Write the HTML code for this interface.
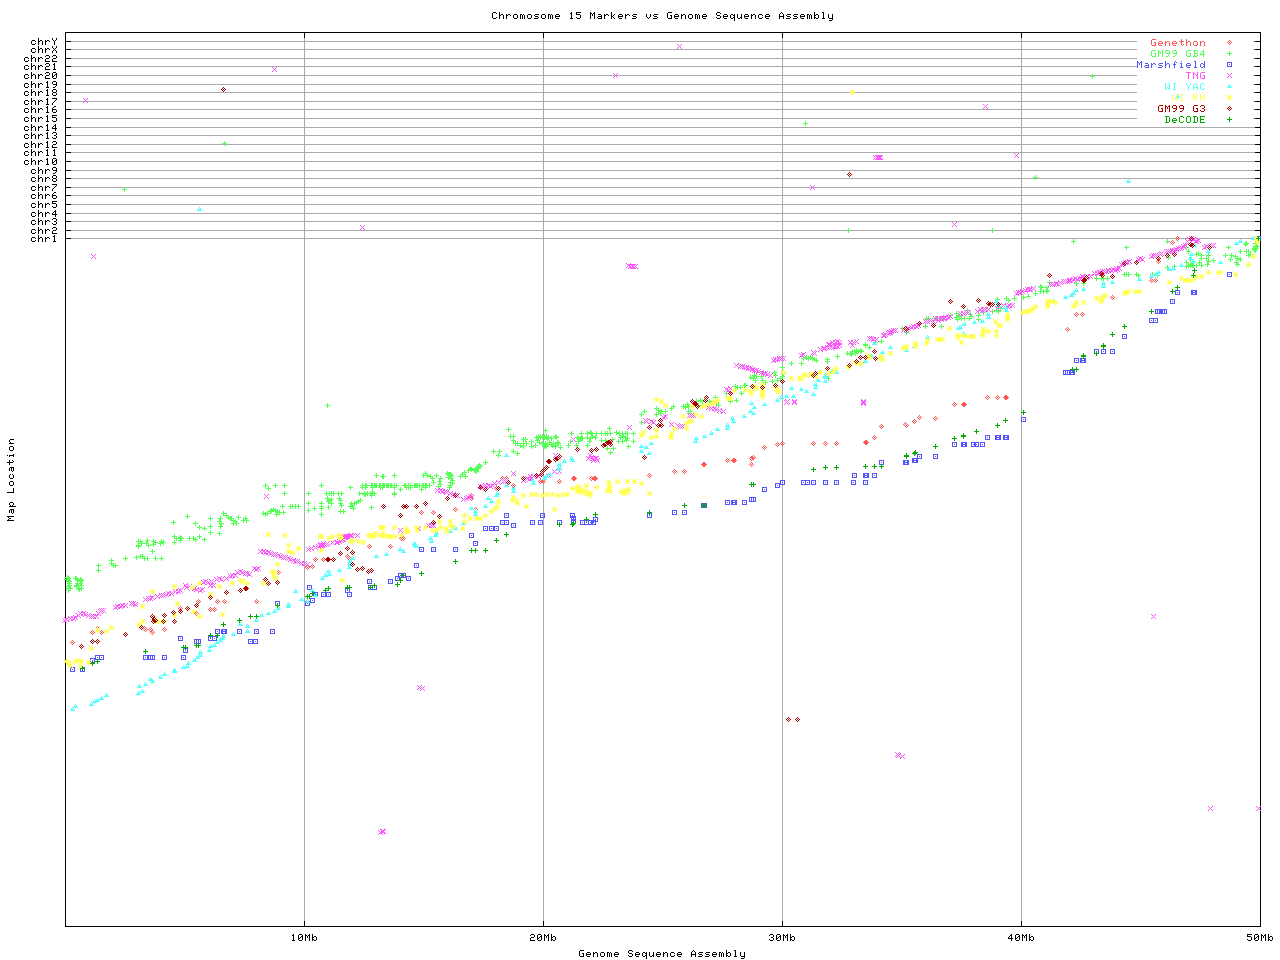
<!DOCTYPE html><html><head><meta charset="utf-8"><title>Chromosome 15 Markers vs Genome Sequence Assembly</title>
<style>html,body{margin:0;padding:0;background:#fff;font-family:"Liberation Sans",sans-serif}svg{display:block}</style></head><body>
<svg width="1280" height="960" viewBox="0 0 1280 960" shape-rendering="crispEdges">
<rect width="1280" height="960" fill="#fff"/>
<defs><path id="g30" d="M1 0h3v1h-3zM0 1h1v1h-1zM4 1h1v1h-1zM0 2h1v1h-1zM3 2h2v1h-2zM0 3h1v1h-1zM2 3h1v1h-1zM4 3h1v1h-1zM0 4h2v1h-2zM4 4h1v1h-1zM0 5h1v1h-1zM4 5h1v1h-1zM1 6h3v1h-3z"/><path id="g31" d="M2 0h1v1h-1zM1 1h2v1h-2zM2 2h1v1h-1zM2 3h1v1h-1zM2 4h1v1h-1zM2 5h1v1h-1zM1 6h3v1h-3z"/><path id="g32" d="M1 0h3v1h-3zM0 1h1v1h-1zM4 1h1v1h-1zM4 2h1v1h-1zM1 3h3v1h-3zM0 4h1v1h-1zM0 5h1v1h-1zM0 6h5v1h-5z"/><path id="g33" d="M1 0h3v1h-3zM0 1h1v1h-1zM4 1h1v1h-1zM4 2h1v1h-1zM2 3h2v1h-2zM4 4h1v1h-1zM0 5h1v1h-1zM4 5h1v1h-1zM1 6h3v1h-3z"/><path id="g34" d="M3 0h1v1h-1zM2 1h2v1h-2zM1 2h1v1h-1zM3 2h1v1h-1zM0 3h1v1h-1zM3 3h1v1h-1zM0 4h5v1h-5zM3 5h1v1h-1zM3 6h1v1h-1z"/><path id="g35" d="M0 0h5v1h-5zM0 1h1v1h-1zM0 2h4v1h-4zM4 3h1v1h-1zM4 4h1v1h-1zM0 5h1v1h-1zM4 5h1v1h-1zM1 6h3v1h-3z"/><path id="g36" d="M2 0h2v1h-2zM1 1h1v1h-1zM0 2h1v1h-1zM0 3h4v1h-4zM0 4h1v1h-1zM4 4h1v1h-1zM0 5h1v1h-1zM4 5h1v1h-1zM1 6h3v1h-3z"/><path id="g37" d="M0 0h5v1h-5zM4 1h1v1h-1zM3 2h1v1h-1zM2 3h1v1h-1zM1 4h1v1h-1zM0 5h1v1h-1zM0 6h1v1h-1z"/><path id="g38" d="M1 0h3v1h-3zM0 1h1v1h-1zM4 1h1v1h-1zM0 2h1v1h-1zM4 2h1v1h-1zM1 3h3v1h-3zM0 4h1v1h-1zM4 4h1v1h-1zM0 5h1v1h-1zM4 5h1v1h-1zM1 6h3v1h-3z"/><path id="g39" d="M1 0h3v1h-3zM0 1h1v1h-1zM4 1h1v1h-1zM0 2h1v1h-1zM4 2h1v1h-1zM1 3h4v1h-4zM4 4h1v1h-1zM3 5h1v1h-1zM1 6h2v1h-2z"/><path id="g41" d="M2 0h1v1h-1zM1 1h1v1h-1zM3 1h1v1h-1zM0 2h1v1h-1zM4 2h1v1h-1zM0 3h1v1h-1zM4 3h1v1h-1zM0 4h5v1h-5zM0 5h1v1h-1zM4 5h1v1h-1zM0 6h1v1h-1zM4 6h1v1h-1z"/><path id="g42" d="M0 0h4v1h-4zM1 1h1v1h-1zM4 1h1v1h-1zM1 2h1v1h-1zM4 2h1v1h-1zM1 3h3v1h-3zM1 4h1v1h-1zM4 4h1v1h-1zM1 5h1v1h-1zM4 5h1v1h-1zM0 6h4v1h-4z"/><path id="g43" d="M1 0h3v1h-3zM0 1h1v1h-1zM4 1h1v1h-1zM0 2h1v1h-1zM0 3h1v1h-1zM0 4h1v1h-1zM0 5h1v1h-1zM4 5h1v1h-1zM1 6h3v1h-3z"/><path id="g44" d="M0 0h4v1h-4zM1 1h1v1h-1zM4 1h1v1h-1zM1 2h1v1h-1zM4 2h1v1h-1zM1 3h1v1h-1zM4 3h1v1h-1zM1 4h1v1h-1zM4 4h1v1h-1zM1 5h1v1h-1zM4 5h1v1h-1zM0 6h4v1h-4z"/><path id="g45" d="M0 0h5v1h-5zM0 1h1v1h-1zM0 2h1v1h-1zM0 3h4v1h-4zM0 4h1v1h-1zM0 5h1v1h-1zM0 6h5v1h-5z"/><path id="g47" d="M1 0h4v1h-4zM0 1h1v1h-1zM0 2h1v1h-1zM0 3h1v1h-1zM3 3h2v1h-2zM0 4h1v1h-1zM4 4h1v1h-1zM0 5h1v1h-1zM4 5h1v1h-1zM1 6h4v1h-4z"/><path id="g48" d="M0 0h1v1h-1zM4 0h1v1h-1zM0 1h1v1h-1zM4 1h1v1h-1zM0 2h1v1h-1zM4 2h1v1h-1zM0 3h5v1h-5zM0 4h1v1h-1zM4 4h1v1h-1zM0 5h1v1h-1zM4 5h1v1h-1zM0 6h1v1h-1zM4 6h1v1h-1z"/><path id="g49" d="M1 0h3v1h-3zM2 1h1v1h-1zM2 2h1v1h-1zM2 3h1v1h-1zM2 4h1v1h-1zM2 5h1v1h-1zM1 6h3v1h-3z"/><path id="g4c" d="M0 0h1v1h-1zM0 1h1v1h-1zM0 2h1v1h-1zM0 3h1v1h-1zM0 4h1v1h-1zM0 5h1v1h-1zM0 6h5v1h-5z"/><path id="g4d" d="M0 0h1v1h-1zM4 0h1v1h-1zM0 1h2v1h-2zM3 1h2v1h-2zM0 2h1v1h-1zM2 2h1v1h-1zM4 2h1v1h-1zM0 3h1v1h-1zM2 3h1v1h-1zM4 3h1v1h-1zM0 4h1v1h-1zM4 4h1v1h-1zM0 5h1v1h-1zM4 5h1v1h-1zM0 6h1v1h-1zM4 6h1v1h-1z"/><path id="g4e" d="M0 0h1v1h-1zM4 0h1v1h-1zM0 1h2v1h-2zM4 1h1v1h-1zM0 2h1v1h-1zM2 2h1v1h-1zM4 2h1v1h-1zM0 3h1v1h-1zM3 3h2v1h-2zM0 4h1v1h-1zM4 4h1v1h-1zM0 5h1v1h-1zM4 5h1v1h-1zM0 6h1v1h-1zM4 6h1v1h-1z"/><path id="g4f" d="M1 0h3v1h-3zM0 1h1v1h-1zM4 1h1v1h-1zM0 2h1v1h-1zM4 2h1v1h-1zM0 3h1v1h-1zM4 3h1v1h-1zM0 4h1v1h-1zM4 4h1v1h-1zM0 5h1v1h-1zM4 5h1v1h-1zM1 6h3v1h-3z"/><path id="g52" d="M0 0h4v1h-4zM0 1h1v1h-1zM4 1h1v1h-1zM0 2h1v1h-1zM4 2h1v1h-1zM0 3h4v1h-4zM0 4h1v1h-1zM2 4h1v1h-1zM0 5h1v1h-1zM3 5h1v1h-1zM0 6h1v1h-1zM4 6h1v1h-1z"/><path id="g53" d="M1 0h3v1h-3zM0 1h1v1h-1zM4 1h1v1h-1zM0 2h1v1h-1zM1 3h3v1h-3zM4 4h1v1h-1zM0 5h1v1h-1zM4 5h1v1h-1zM1 6h3v1h-3z"/><path id="g54" d="M0 0h5v1h-5zM2 1h1v1h-1zM2 2h1v1h-1zM2 3h1v1h-1zM2 4h1v1h-1zM2 5h1v1h-1zM2 6h1v1h-1z"/><path id="g57" d="M0 0h1v1h-1zM4 0h1v1h-1zM0 1h1v1h-1zM4 1h1v1h-1zM0 2h1v1h-1zM4 2h1v1h-1zM0 3h1v1h-1zM4 3h1v1h-1zM0 4h1v1h-1zM2 4h1v1h-1zM4 4h1v1h-1zM0 5h2v1h-2zM3 5h2v1h-2zM0 6h1v1h-1zM4 6h1v1h-1z"/><path id="g58" d="M0 0h1v1h-1zM4 0h1v1h-1zM0 1h1v1h-1zM4 1h1v1h-1zM1 2h1v1h-1zM3 2h1v1h-1zM2 3h1v1h-1zM1 4h1v1h-1zM3 4h1v1h-1zM0 5h1v1h-1zM4 5h1v1h-1zM0 6h1v1h-1zM4 6h1v1h-1z"/><path id="g59" d="M0 0h1v1h-1zM4 0h1v1h-1zM0 1h1v1h-1zM4 1h1v1h-1zM1 2h1v1h-1zM3 2h1v1h-1zM2 3h1v1h-1zM2 4h1v1h-1zM2 5h1v1h-1zM2 6h1v1h-1z"/><path id="g61" d="M1 2h3v1h-3zM4 3h1v1h-1zM1 4h4v1h-4zM0 5h1v1h-1zM4 5h1v1h-1zM1 6h4v1h-4z"/><path id="g62" d="M0 0h1v1h-1zM0 1h1v1h-1zM0 2h1v1h-1zM2 2h2v1h-2zM0 3h2v1h-2zM4 3h1v1h-1zM0 4h1v1h-1zM4 4h1v1h-1zM0 5h2v1h-2zM4 5h1v1h-1zM0 6h1v1h-1zM2 6h2v1h-2z"/><path id="g63" d="M1 2h3v1h-3zM0 3h1v1h-1zM4 3h1v1h-1zM0 4h1v1h-1zM0 5h1v1h-1zM4 5h1v1h-1zM1 6h3v1h-3z"/><path id="g64" d="M4 0h1v1h-1zM4 1h1v1h-1zM1 2h2v1h-2zM4 2h1v1h-1zM0 3h1v1h-1zM3 3h2v1h-2zM0 4h1v1h-1zM4 4h1v1h-1zM0 5h1v1h-1zM3 5h2v1h-2zM1 6h2v1h-2zM4 6h1v1h-1z"/><path id="g65" d="M1 2h3v1h-3zM0 3h1v1h-1zM4 3h1v1h-1zM0 4h5v1h-5zM0 5h1v1h-1zM1 6h3v1h-3z"/><path id="g66" d="M3 0h1v1h-1zM2 1h1v1h-1zM4 1h1v1h-1zM2 2h1v1h-1zM1 3h3v1h-3zM2 4h1v1h-1zM2 5h1v1h-1zM2 6h1v1h-1z"/><path id="g68" d="M0 0h1v1h-1zM0 1h1v1h-1zM0 2h1v1h-1zM2 2h2v1h-2zM0 3h2v1h-2zM4 3h1v1h-1zM0 4h1v1h-1zM4 4h1v1h-1zM0 5h1v1h-1zM4 5h1v1h-1zM0 6h1v1h-1zM4 6h1v1h-1z"/><path id="g69" d="M2 0h1v1h-1zM1 2h2v1h-2zM2 3h1v1h-1zM2 4h1v1h-1zM2 5h1v1h-1zM1 6h3v1h-3z"/><path id="g6b" d="M0 0h1v1h-1zM0 1h1v1h-1zM0 2h1v1h-1zM3 2h1v1h-1zM0 3h1v1h-1zM2 3h1v1h-1zM0 4h2v1h-2zM0 5h1v1h-1zM2 5h1v1h-1zM0 6h1v1h-1zM3 6h1v1h-1z"/><path id="g6c" d="M1 0h2v1h-2zM2 1h1v1h-1zM2 2h1v1h-1zM2 3h1v1h-1zM2 4h1v1h-1zM2 5h1v1h-1zM1 6h3v1h-3z"/><path id="g6d" d="M0 2h2v1h-2zM3 2h1v1h-1zM0 3h1v1h-1zM2 3h1v1h-1zM4 3h1v1h-1zM0 4h1v1h-1zM2 4h1v1h-1zM4 4h1v1h-1zM0 5h1v1h-1zM2 5h1v1h-1zM4 5h1v1h-1zM0 6h1v1h-1zM2 6h1v1h-1zM4 6h1v1h-1z"/><path id="g6e" d="M0 2h1v1h-1zM2 2h2v1h-2zM0 3h2v1h-2zM4 3h1v1h-1zM0 4h1v1h-1zM4 4h1v1h-1zM0 5h1v1h-1zM4 5h1v1h-1zM0 6h1v1h-1zM4 6h1v1h-1z"/><path id="g6f" d="M1 2h3v1h-3zM0 3h1v1h-1zM4 3h1v1h-1zM0 4h1v1h-1zM4 4h1v1h-1zM0 5h1v1h-1zM4 5h1v1h-1zM1 6h3v1h-3z"/><path id="g70" d="M0 2h1v1h-1zM2 2h2v1h-2zM0 3h2v1h-2zM4 3h1v1h-1zM0 4h1v1h-1zM4 4h1v1h-1zM0 5h2v1h-2zM4 5h1v1h-1zM0 6h1v1h-1zM2 6h2v1h-2zM0 7h1v1h-1zM0 8h1v1h-1z"/><path id="g71" d="M1 2h2v1h-2zM4 2h1v1h-1zM0 3h1v1h-1zM3 3h2v1h-2zM0 4h1v1h-1zM4 4h1v1h-1zM0 5h1v1h-1zM3 5h2v1h-2zM1 6h2v1h-2zM4 6h1v1h-1zM4 7h1v1h-1zM4 8h1v1h-1z"/><path id="g72" d="M0 2h1v1h-1zM2 2h2v1h-2zM0 3h2v1h-2zM4 3h1v1h-1zM0 4h1v1h-1zM0 5h1v1h-1zM0 6h1v1h-1z"/><path id="g73" d="M1 2h4v1h-4zM0 3h1v1h-1zM1 4h3v1h-3zM4 5h1v1h-1zM0 6h4v1h-4z"/><path id="g74" d="M2 0h1v1h-1zM2 1h1v1h-1zM0 2h5v1h-5zM2 3h1v1h-1zM2 4h1v1h-1zM2 5h1v1h-1zM4 5h1v1h-1zM3 6h1v1h-1z"/><path id="g75" d="M0 2h1v1h-1zM4 2h1v1h-1zM0 3h1v1h-1zM4 3h1v1h-1zM0 4h1v1h-1zM4 4h1v1h-1zM0 5h1v1h-1zM3 5h2v1h-2zM1 6h2v1h-2zM4 6h1v1h-1z"/><path id="g76" d="M0 2h1v1h-1zM4 2h1v1h-1zM0 3h1v1h-1zM4 3h1v1h-1zM0 4h1v1h-1zM4 4h1v1h-1zM1 5h1v1h-1zM3 5h1v1h-1zM2 6h1v1h-1z"/><path id="g79" d="M0 2h1v1h-1zM4 2h1v1h-1zM0 3h1v1h-1zM4 3h1v1h-1zM0 4h1v1h-1zM4 4h1v1h-1zM0 5h1v1h-1zM4 5h1v1h-1zM1 6h4v1h-4zM4 7h1v1h-1zM1 8h3v1h-3z"/><path id="rg4c" d="M6 -4h1v1h-1zM6 -3h1v1h-1zM6 -2h1v1h-1zM6 -1h1v1h-1zM0 0h7v1h-7z"/><path id="rg4d" d="M0 -4h7v1h-7zM1 -3h1v1h-1zM2 -2h2v1h-2zM1 -1h1v1h-1zM0 0h7v1h-7z"/><path id="rg61" d="M3 -4h4v1h-4zM2 -3h1v1h-1zM4 -3h1v1h-1zM6 -3h1v1h-1zM2 -2h1v1h-1zM4 -2h1v1h-1zM6 -2h1v1h-1zM2 -1h1v1h-1zM4 -1h1v1h-1zM6 -1h1v1h-1zM5 0h1v1h-1z"/><path id="rg63" d="M3 -4h1v1h-1zM5 -4h1v1h-1zM2 -3h1v1h-1zM6 -3h1v1h-1zM2 -2h1v1h-1zM6 -2h1v1h-1zM2 -1h1v1h-1zM6 -1h1v1h-1zM3 0h3v1h-3z"/><path id="rg69" d="M6 -3h1v1h-1zM0 -2h1v1h-1zM2 -2h5v1h-5zM2 -1h1v1h-1zM6 -1h1v1h-1z"/><path id="rg6e" d="M3 -4h4v1h-4zM2 -3h1v1h-1zM2 -2h1v1h-1zM3 -1h1v1h-1zM2 0h5v1h-5z"/><path id="rg6f" d="M3 -4h3v1h-3zM2 -3h1v1h-1zM6 -3h1v1h-1zM2 -2h1v1h-1zM6 -2h1v1h-1zM2 -1h1v1h-1zM6 -1h1v1h-1zM3 0h3v1h-3z"/><path id="rg70" d="M3 -4h3v1h-3zM2 -3h1v1h-1zM6 -3h1v1h-1zM2 -2h1v1h-1zM6 -2h1v1h-1zM3 -1h1v1h-1zM5 -1h1v1h-1zM2 0h7v1h-7z"/><path id="rg74" d="M2 -4h1v1h-1zM5 -4h1v1h-1zM2 -3h1v1h-1zM6 -3h1v1h-1zM0 -2h6v1h-6zM2 -1h1v1h-1zM2 0h1v1h-1z"/><path id="dia" d="M0 -2h1v1h-1zM-1 -1h1v1h-1zM1 -1h1v1h-1zM-2 0h1v1h-1zM0 0h1v1h-1zM2 0h1v1h-1zM-1 1h1v1h-1zM1 1h1v1h-1zM0 2h1v1h-1z"/><path id="plus" d="M0 -2h1v1h-1zM0 -1h1v1h-1zM-2 0h5v1h-5zM0 1h1v1h-1zM0 2h1v1h-1z"/><path id="box" d="M-2 -2h5v1h-5zM-2 -1h1v1h-1zM2 -1h1v1h-1zM-2 0h1v1h-1zM0 0h1v1h-1zM2 0h1v1h-1zM-2 1h1v1h-1zM2 1h1v1h-1zM-2 2h5v1h-5z"/><path id="x" d="M-2 -2h1v1h-1zM2 -2h1v1h-1zM-1 -1h1v1h-1zM1 -1h1v1h-1zM0 0h1v1h-1zM-1 1h1v1h-1zM1 1h1v1h-1zM-2 2h1v1h-1zM2 2h1v1h-1z"/><path id="tri" d="M0 -2h1v1h-1zM-1 -1h1v1h-1zM1 -1h1v1h-1zM-1 0h3v1h-3zM-2 1h5v1h-5z"/><path id="star" d="M-2 -2h1v1h-1zM0 -2h1v1h-1zM2 -2h1v1h-1zM-1 -1h3v1h-3zM-2 0h5v1h-5zM-1 1h3v1h-3zM-2 2h1v1h-1zM0 2h1v1h-1zM2 2h1v1h-1z"/></defs>
<path fill="#aaaaaa" d="M71 41h1184v1h-1184zM71 49h1184v1h-1184zM71 58h1184v1h-1184zM71 66h1184v1h-1184zM71 75h1184v1h-1184zM71 84h1184v1h-1184zM71 92h1184v1h-1184zM71 101h1184v1h-1184zM71 109h1184v1h-1184zM71 118h1184v1h-1184zM71 127h1184v1h-1184zM71 135h1184v1h-1184zM71 144h1184v1h-1184zM71 152h1184v1h-1184zM71 161h1184v1h-1184zM71 170h1184v1h-1184zM71 178h1184v1h-1184zM71 187h1184v1h-1184zM71 195h1184v1h-1184zM71 204h1184v1h-1184zM71 213h1184v1h-1184zM71 221h1184v1h-1184zM71 230h1184v1h-1184zM71 238h1184v1h-1184zM304 38h1v883h-1zM543 38h1v883h-1zM782 38h1v883h-1zM1021 38h1v883h-1z"/>
<rect x="1137" y="33" width="116" height="91" fill="#fff"/>
<path fill="#000" d="M65 32h1196v1h-1196zM65 926h1196v1h-1196zM65 32h1v895h-1zM1260 32h1v895h-1zM66 41h5v1h-5zM1255 41h5v1h-5zM66 49h5v1h-5zM1255 49h5v1h-5zM66 58h5v1h-5zM1255 58h5v1h-5zM66 66h5v1h-5zM1255 66h5v1h-5zM66 75h5v1h-5zM1255 75h5v1h-5zM66 84h5v1h-5zM1255 84h5v1h-5zM66 92h5v1h-5zM1255 92h5v1h-5zM66 101h5v1h-5zM1255 101h5v1h-5zM66 109h5v1h-5zM1255 109h5v1h-5zM66 118h5v1h-5zM1255 118h5v1h-5zM66 127h5v1h-5zM1255 127h5v1h-5zM66 135h5v1h-5zM1255 135h5v1h-5zM66 144h5v1h-5zM1255 144h5v1h-5zM66 152h5v1h-5zM1255 152h5v1h-5zM66 161h5v1h-5zM1255 161h5v1h-5zM66 170h5v1h-5zM1255 170h5v1h-5zM66 178h5v1h-5zM1255 178h5v1h-5zM66 187h5v1h-5zM1255 187h5v1h-5zM66 195h5v1h-5zM1255 195h5v1h-5zM66 204h5v1h-5zM1255 204h5v1h-5zM66 213h5v1h-5zM1255 213h5v1h-5zM66 221h5v1h-5zM1255 221h5v1h-5zM66 230h5v1h-5zM1255 230h5v1h-5zM66 238h5v1h-5zM1255 238h5v1h-5zM304 33h1v5h-1zM304 921h1v5h-1zM543 33h1v5h-1zM543 921h1v5h-1zM782 33h1v5h-1zM782 921h1v5h-1zM1021 33h1v5h-1zM1021 921h1v5h-1z"/>
<g fill="#000"><use href="#g63" x="31" y="38"/><use href="#g68" x="38" y="38"/><use href="#g72" x="45" y="38"/><use href="#g59" x="52" y="38"/></g>
<g fill="#000"><use href="#g63" x="31" y="46"/><use href="#g68" x="38" y="46"/><use href="#g72" x="45" y="46"/><use href="#g58" x="52" y="46"/></g>
<g fill="#000"><use href="#g63" x="24" y="55"/><use href="#g68" x="31" y="55"/><use href="#g72" x="38" y="55"/><use href="#g32" x="45" y="55"/><use href="#g32" x="52" y="55"/></g>
<g fill="#000"><use href="#g63" x="24" y="63"/><use href="#g68" x="31" y="63"/><use href="#g72" x="38" y="63"/><use href="#g32" x="45" y="63"/><use href="#g31" x="52" y="63"/></g>
<g fill="#000"><use href="#g63" x="24" y="72"/><use href="#g68" x="31" y="72"/><use href="#g72" x="38" y="72"/><use href="#g32" x="45" y="72"/><use href="#g30" x="52" y="72"/></g>
<g fill="#000"><use href="#g63" x="24" y="81"/><use href="#g68" x="31" y="81"/><use href="#g72" x="38" y="81"/><use href="#g31" x="45" y="81"/><use href="#g39" x="52" y="81"/></g>
<g fill="#000"><use href="#g63" x="24" y="89"/><use href="#g68" x="31" y="89"/><use href="#g72" x="38" y="89"/><use href="#g31" x="45" y="89"/><use href="#g38" x="52" y="89"/></g>
<g fill="#000"><use href="#g63" x="24" y="98"/><use href="#g68" x="31" y="98"/><use href="#g72" x="38" y="98"/><use href="#g31" x="45" y="98"/><use href="#g37" x="52" y="98"/></g>
<g fill="#000"><use href="#g63" x="24" y="106"/><use href="#g68" x="31" y="106"/><use href="#g72" x="38" y="106"/><use href="#g31" x="45" y="106"/><use href="#g36" x="52" y="106"/></g>
<g fill="#000"><use href="#g63" x="24" y="115"/><use href="#g68" x="31" y="115"/><use href="#g72" x="38" y="115"/><use href="#g31" x="45" y="115"/><use href="#g35" x="52" y="115"/></g>
<g fill="#000"><use href="#g63" x="24" y="124"/><use href="#g68" x="31" y="124"/><use href="#g72" x="38" y="124"/><use href="#g31" x="45" y="124"/><use href="#g34" x="52" y="124"/></g>
<g fill="#000"><use href="#g63" x="24" y="132"/><use href="#g68" x="31" y="132"/><use href="#g72" x="38" y="132"/><use href="#g31" x="45" y="132"/><use href="#g33" x="52" y="132"/></g>
<g fill="#000"><use href="#g63" x="24" y="141"/><use href="#g68" x="31" y="141"/><use href="#g72" x="38" y="141"/><use href="#g31" x="45" y="141"/><use href="#g32" x="52" y="141"/></g>
<g fill="#000"><use href="#g63" x="24" y="149"/><use href="#g68" x="31" y="149"/><use href="#g72" x="38" y="149"/><use href="#g31" x="45" y="149"/><use href="#g31" x="52" y="149"/></g>
<g fill="#000"><use href="#g63" x="24" y="158"/><use href="#g68" x="31" y="158"/><use href="#g72" x="38" y="158"/><use href="#g31" x="45" y="158"/><use href="#g30" x="52" y="158"/></g>
<g fill="#000"><use href="#g63" x="31" y="167"/><use href="#g68" x="38" y="167"/><use href="#g72" x="45" y="167"/><use href="#g39" x="52" y="167"/></g>
<g fill="#000"><use href="#g63" x="31" y="175"/><use href="#g68" x="38" y="175"/><use href="#g72" x="45" y="175"/><use href="#g38" x="52" y="175"/></g>
<g fill="#000"><use href="#g63" x="31" y="184"/><use href="#g68" x="38" y="184"/><use href="#g72" x="45" y="184"/><use href="#g37" x="52" y="184"/></g>
<g fill="#000"><use href="#g63" x="31" y="192"/><use href="#g68" x="38" y="192"/><use href="#g72" x="45" y="192"/><use href="#g36" x="52" y="192"/></g>
<g fill="#000"><use href="#g63" x="31" y="201"/><use href="#g68" x="38" y="201"/><use href="#g72" x="45" y="201"/><use href="#g35" x="52" y="201"/></g>
<g fill="#000"><use href="#g63" x="31" y="210"/><use href="#g68" x="38" y="210"/><use href="#g72" x="45" y="210"/><use href="#g34" x="52" y="210"/></g>
<g fill="#000"><use href="#g63" x="31" y="218"/><use href="#g68" x="38" y="218"/><use href="#g72" x="45" y="218"/><use href="#g33" x="52" y="218"/></g>
<g fill="#000"><use href="#g63" x="31" y="227"/><use href="#g68" x="38" y="227"/><use href="#g72" x="45" y="227"/><use href="#g32" x="52" y="227"/></g>
<g fill="#000"><use href="#g63" x="31" y="235"/><use href="#g68" x="38" y="235"/><use href="#g72" x="45" y="235"/><use href="#g31" x="52" y="235"/></g>
<g fill="#000"><use href="#g31" x="291" y="934"/><use href="#g30" x="298" y="934"/><use href="#g4d" x="305" y="934"/><use href="#g62" x="312" y="934"/></g>
<g fill="#000"><use href="#g32" x="530" y="934"/><use href="#g30" x="537" y="934"/><use href="#g4d" x="544" y="934"/><use href="#g62" x="551" y="934"/></g>
<g fill="#000"><use href="#g33" x="769" y="934"/><use href="#g30" x="776" y="934"/><use href="#g4d" x="783" y="934"/><use href="#g62" x="790" y="934"/></g>
<g fill="#000"><use href="#g34" x="1008" y="934"/><use href="#g30" x="1015" y="934"/><use href="#g4d" x="1022" y="934"/><use href="#g62" x="1029" y="934"/></g>
<g fill="#000"><use href="#g35" x="1247" y="934"/><use href="#g30" x="1254" y="934"/><use href="#g4d" x="1261" y="934"/><use href="#g62" x="1268" y="934"/></g>
<g fill="#000"><use href="#g43" x="492" y="12"/><use href="#g68" x="499" y="12"/><use href="#g72" x="506" y="12"/><use href="#g6f" x="513" y="12"/><use href="#g6d" x="520" y="12"/><use href="#g6f" x="527" y="12"/><use href="#g73" x="534" y="12"/><use href="#g6f" x="541" y="12"/><use href="#g6d" x="548" y="12"/><use href="#g65" x="555" y="12"/><use href="#g31" x="569" y="12"/><use href="#g35" x="576" y="12"/><use href="#g4d" x="590" y="12"/><use href="#g61" x="597" y="12"/><use href="#g72" x="604" y="12"/><use href="#g6b" x="611" y="12"/><use href="#g65" x="618" y="12"/><use href="#g72" x="625" y="12"/><use href="#g73" x="632" y="12"/><use href="#g76" x="646" y="12"/><use href="#g73" x="653" y="12"/><use href="#g47" x="667" y="12"/><use href="#g65" x="674" y="12"/><use href="#g6e" x="681" y="12"/><use href="#g6f" x="688" y="12"/><use href="#g6d" x="695" y="12"/><use href="#g65" x="702" y="12"/><use href="#g53" x="716" y="12"/><use href="#g65" x="723" y="12"/><use href="#g71" x="730" y="12"/><use href="#g75" x="737" y="12"/><use href="#g65" x="744" y="12"/><use href="#g6e" x="751" y="12"/><use href="#g63" x="758" y="12"/><use href="#g65" x="765" y="12"/><use href="#g41" x="779" y="12"/><use href="#g73" x="786" y="12"/><use href="#g73" x="793" y="12"/><use href="#g65" x="800" y="12"/><use href="#g6d" x="807" y="12"/><use href="#g62" x="814" y="12"/><use href="#g6c" x="821" y="12"/><use href="#g79" x="828" y="12"/></g>
<g fill="#000"><use href="#g47" x="579" y="950"/><use href="#g65" x="586" y="950"/><use href="#g6e" x="593" y="950"/><use href="#g6f" x="600" y="950"/><use href="#g6d" x="607" y="950"/><use href="#g65" x="614" y="950"/><use href="#g53" x="628" y="950"/><use href="#g65" x="635" y="950"/><use href="#g71" x="642" y="950"/><use href="#g75" x="649" y="950"/><use href="#g65" x="656" y="950"/><use href="#g6e" x="663" y="950"/><use href="#g63" x="670" y="950"/><use href="#g65" x="677" y="950"/><use href="#g41" x="691" y="950"/><use href="#g73" x="698" y="950"/><use href="#g73" x="705" y="950"/><use href="#g65" x="712" y="950"/><use href="#g6d" x="719" y="950"/><use href="#g62" x="726" y="950"/><use href="#g6c" x="733" y="950"/><use href="#g79" x="740" y="950"/></g>
<g fill="#000"><use href="#rg4d" x="7" y="520"/><use href="#rg61" x="7" y="513"/><use href="#rg70" x="7" y="506"/><use href="#rg4c" x="7" y="492"/><use href="#rg6f" x="7" y="485"/><use href="#rg63" x="7" y="478"/><use href="#rg61" x="7" y="471"/><use href="#rg74" x="7" y="464"/><use href="#rg69" x="7" y="457"/><use href="#rg6f" x="7" y="450"/><use href="#rg6e" x="7" y="443"/></g>
<g fill="#ff5555"><use href="#g47" x="1151" y="39"/><use href="#g65" x="1158" y="39"/><use href="#g6e" x="1165" y="39"/><use href="#g65" x="1172" y="39"/><use href="#g74" x="1179" y="39"/><use href="#g68" x="1186" y="39"/><use href="#g6f" x="1193" y="39"/><use href="#g6e" x="1200" y="39"/></g>
<g fill="#ff5555"><use href="#dia" x="1229" y="42"/><use href="#dia" x="1177" y="238"/><use href="#dia" x="1172" y="242"/><use href="#dia" x="1158" y="261"/><use href="#dia" x="1151" y="280"/><use href="#dia" x="1155" y="280"/><use href="#dia" x="1112" y="297"/><use href="#dia" x="1076" y="314"/><use href="#dia" x="1082" y="314"/><use href="#dia" x="1067" y="329"/><use href="#dia" x="987" y="397"/><use href="#dia" x="997" y="397"/><use href="#dia" x="1005" y="397"/><use href="#dia" x="1006" y="397"/><use href="#dia" x="963" y="404"/><use href="#dia" x="964" y="404"/><use href="#dia" x="954" y="404"/><use href="#dia" x="919" y="417"/><use href="#dia" x="914" y="421"/><use href="#dia" x="935" y="418"/><use href="#dia" x="905" y="424"/><use href="#dia" x="906" y="425"/><use href="#dia" x="881" y="426"/><use href="#dia" x="874" y="437"/><use href="#dia" x="865" y="442"/><use href="#dia" x="866" y="442"/><use href="#dia" x="813" y="443"/><use href="#dia" x="825" y="443"/><use href="#dia" x="836" y="443"/><use href="#dia" x="782" y="443"/><use href="#dia" x="777" y="444"/><use href="#dia" x="764" y="447"/><use href="#dia" x="753" y="457"/><use href="#dia" x="751" y="458"/><use href="#dia" x="751" y="464"/><use href="#dia" x="733" y="460"/><use href="#dia" x="734" y="460"/><use href="#dia" x="727" y="460"/><use href="#dia" x="703" y="464"/><use href="#dia" x="704" y="464"/><use href="#dia" x="684" y="471"/><use href="#dia" x="674" y="471"/><use href="#dia" x="649" y="475"/><use href="#dia" x="502" y="478"/><use href="#dia" x="506" y="478"/><use href="#dia" x="513" y="485"/><use href="#dia" x="496" y="488"/><use href="#dia" x="498" y="488"/><use href="#dia" x="540" y="481"/><use href="#dia" x="543" y="481"/><use href="#dia" x="559" y="481"/><use href="#dia" x="573" y="478"/><use href="#dia" x="574" y="478"/><use href="#dia" x="591" y="478"/><use href="#dia" x="594" y="478"/><use href="#dia" x="595" y="478"/><use href="#dia" x="421" y="512"/><use href="#dia" x="433" y="512"/><use href="#dia" x="455" y="509"/><use href="#dia" x="475" y="509"/><use href="#dia" x="471" y="495"/><use href="#dia" x="471" y="498"/><use href="#dia" x="401" y="538"/><use href="#dia" x="403" y="538"/><use href="#dia" x="369" y="546"/><use href="#dia" x="390" y="546"/><use href="#dia" x="347" y="556"/><use href="#dia" x="349" y="558"/><use href="#dia" x="323" y="559"/><use href="#dia" x="315" y="559"/><use href="#dia" x="312" y="566"/><use href="#dia" x="307" y="567"/><use href="#dia" x="278" y="572"/><use href="#dia" x="198" y="601"/><use href="#dia" x="217" y="601"/><use href="#dia" x="224" y="601"/><use href="#dia" x="256" y="601"/><use href="#dia" x="180" y="608"/><use href="#dia" x="210" y="609"/><use href="#dia" x="214" y="609"/><use href="#dia" x="196" y="613"/><use href="#dia" x="164" y="629"/><use href="#dia" x="97" y="628"/><use href="#dia" x="92" y="632"/><use href="#dia" x="101" y="632"/><use href="#dia" x="72" y="642"/><use href="#dia" x="145" y="629"/><use href="#dia" x="150" y="629"/><use href="#dia" x="152" y="632"/><use href="#dia" x="144" y="628"/></g>
<g fill="#55ff55"><use href="#g47" x="1151" y="50"/><use href="#g4d" x="1158" y="50"/><use href="#g39" x="1165" y="50"/><use href="#g39" x="1172" y="50"/><use href="#g47" x="1186" y="50"/><use href="#g42" x="1193" y="50"/><use href="#g34" x="1200" y="50"/></g>
<g fill="#55ff55"><use href="#plus" x="1229" y="53"/><use href="#plus" x="224" y="143"/><use href="#plus" x="124" y="189"/><use href="#plus" x="805" y="123"/><use href="#plus" x="848" y="230"/><use href="#plus" x="992" y="230"/><use href="#plus" x="1092" y="76"/><use href="#plus" x="1035" y="177"/><use href="#plus" x="1073" y="241"/><use href="#plus" x="1126" y="247"/><use href="#plus" x="1167" y="241"/><use href="#plus" x="1188" y="251"/><use href="#plus" x="1168" y="257"/><use href="#plus" x="1167" y="267"/><use href="#plus" x="1174" y="266"/><use href="#plus" x="1124" y="274"/><use href="#plus" x="1126" y="274"/><use href="#plus" x="1128" y="274"/><use href="#plus" x="1136" y="274"/><use href="#plus" x="1138" y="275"/><use href="#plus" x="1152" y="274"/><use href="#plus" x="1157" y="275"/><use href="#plus" x="1186" y="247"/><use href="#plus" x="1196" y="254"/><use href="#plus" x="1198" y="253"/><use href="#plus" x="1201" y="255"/><use href="#plus" x="1201" y="258"/><use href="#plus" x="1206" y="258"/><use href="#plus" x="1208" y="255"/><use href="#plus" x="1208" y="261"/><use href="#plus" x="1213" y="260"/><use href="#plus" x="1207" y="264"/><use href="#plus" x="1186" y="262"/><use href="#plus" x="1188" y="265"/><use href="#plus" x="1190" y="265"/><use href="#plus" x="1192" y="265"/><use href="#plus" x="1193" y="265"/><use href="#plus" x="1196" y="265"/><use href="#plus" x="1199" y="262"/><use href="#plus" x="1201" y="265"/><use href="#plus" x="1186" y="266"/><use href="#plus" x="1190" y="259"/><use href="#plus" x="1191" y="264"/><use href="#plus" x="1228" y="247"/><use href="#plus" x="1225" y="255"/><use href="#plus" x="1231" y="255"/><use href="#plus" x="1235" y="256"/><use href="#plus" x="1230" y="259"/><use href="#plus" x="1237" y="258"/><use href="#plus" x="1240" y="251"/><use href="#plus" x="1240" y="259"/><use href="#plus" x="1236" y="262"/><use href="#plus" x="1237" y="264"/><use href="#plus" x="1245" y="244"/><use href="#plus" x="1246" y="243"/><use href="#plus" x="1246" y="251"/><use href="#plus" x="1248" y="251"/><use href="#plus" x="1248" y="255"/><use href="#plus" x="1250" y="254"/><use href="#plus" x="1254" y="248"/><use href="#plus" x="1255" y="247"/><use href="#plus" x="1256" y="246"/><use href="#plus" x="1255" y="243"/><use href="#plus" x="1049" y="282"/><use href="#plus" x="1040" y="286"/><use href="#plus" x="1041" y="287"/><use href="#plus" x="1046" y="287"/><use href="#plus" x="1047" y="290"/><use href="#plus" x="1040" y="291"/><use href="#plus" x="1043" y="291"/><use href="#plus" x="1046" y="291"/><use href="#plus" x="1035" y="293"/><use href="#plus" x="1028" y="296"/><use href="#plus" x="1023" y="297"/><use href="#plus" x="1014" y="298"/><use href="#plus" x="1006" y="298"/><use href="#plus" x="1008" y="300"/><use href="#plus" x="997" y="299"/><use href="#plus" x="1076" y="283"/><use href="#plus" x="1083" y="283"/><use href="#plus" x="1096" y="278"/><use href="#plus" x="1101" y="278"/><use href="#plus" x="1103" y="278"/><use href="#plus" x="1107" y="278"/><use href="#plus" x="967" y="310"/><use href="#plus" x="970" y="314"/><use href="#plus" x="971" y="316"/><use href="#plus" x="969" y="318"/><use href="#plus" x="964" y="318"/><use href="#plus" x="961" y="318"/><use href="#plus" x="978" y="315"/><use href="#plus" x="978" y="319"/><use href="#plus" x="983" y="312"/><use href="#plus" x="992" y="311"/><use href="#plus" x="996" y="310"/><use href="#plus" x="998" y="311"/><use href="#plus" x="1000" y="308"/><use href="#plus" x="926" y="318"/><use href="#plus" x="928" y="318"/><use href="#plus" x="935" y="318"/><use href="#plus" x="941" y="318"/><use href="#plus" x="943" y="319"/><use href="#plus" x="950" y="315"/><use href="#plus" x="956" y="313"/><use href="#plus" x="958" y="315"/><use href="#plus" x="956" y="317"/><use href="#plus" x="959" y="316"/><use href="#plus" x="957" y="319"/><use href="#plus" x="925" y="326"/><use href="#plus" x="941" y="326"/><use href="#plus" x="906" y="332"/><use href="#plus" x="902" y="328"/><use href="#plus" x="881" y="341"/><use href="#plus" x="875" y="342"/><use href="#plus" x="865" y="344"/><use href="#plus" x="801" y="363"/><use href="#plus" x="803" y="358"/><use href="#plus" x="806" y="357"/><use href="#plus" x="808" y="358"/><use href="#plus" x="810" y="357"/><use href="#plus" x="812" y="358"/><use href="#plus" x="814" y="359"/><use href="#plus" x="816" y="360"/><use href="#plus" x="827" y="359"/><use href="#plus" x="827" y="361"/><use href="#plus" x="837" y="356"/><use href="#plus" x="847" y="353"/><use href="#plus" x="850" y="353"/><use href="#plus" x="852" y="351"/><use href="#plus" x="854" y="351"/><use href="#plus" x="856" y="350"/><use href="#plus" x="858" y="351"/><use href="#plus" x="860" y="350"/><use href="#plus" x="861" y="351"/><use href="#plus" x="855" y="353"/><use href="#plus" x="851" y="354"/><use href="#plus" x="869" y="347"/><use href="#plus" x="865" y="345"/><use href="#plus" x="825" y="377"/><use href="#plus" x="828" y="378"/><use href="#plus" x="791" y="363"/><use href="#plus" x="782" y="367"/><use href="#plus" x="774" y="372"/><use href="#plus" x="775" y="375"/><use href="#plus" x="763" y="373"/><use href="#plus" x="761" y="376"/><use href="#plus" x="754" y="375"/><use href="#plus" x="756" y="376"/><use href="#plus" x="750" y="377"/><use href="#plus" x="753" y="378"/><use href="#plus" x="755" y="380"/><use href="#plus" x="762" y="380"/><use href="#plus" x="765" y="382"/><use href="#plus" x="772" y="381"/><use href="#plus" x="777" y="380"/><use href="#plus" x="780" y="378"/><use href="#plus" x="782" y="376"/><use href="#plus" x="783" y="373"/><use href="#plus" x="744" y="385"/><use href="#plus" x="745" y="385"/><use href="#plus" x="735" y="386"/><use href="#plus" x="737" y="387"/><use href="#plus" x="740" y="387"/><use href="#plus" x="741" y="393"/><use href="#plus" x="736" y="400"/><use href="#plus" x="726" y="393"/><use href="#plus" x="730" y="401"/><use href="#plus" x="715" y="397"/><use href="#plus" x="716" y="402"/><use href="#plus" x="718" y="405"/><use href="#plus" x="709" y="401"/><use href="#plus" x="702" y="401"/><use href="#plus" x="700" y="400"/><use href="#plus" x="696" y="401"/><use href="#plus" x="698" y="405"/><use href="#plus" x="687" y="404"/><use href="#plus" x="683" y="406"/><use href="#plus" x="685" y="407"/><use href="#plus" x="688" y="406"/><use href="#plus" x="688" y="411"/><use href="#plus" x="690" y="411"/><use href="#plus" x="673" y="406"/><use href="#plus" x="671" y="408"/><use href="#plus" x="656" y="408"/><use href="#plus" x="658" y="410"/><use href="#plus" x="661" y="411"/><use href="#plus" x="665" y="411"/><use href="#plus" x="656" y="414"/><use href="#plus" x="660" y="413"/><use href="#plus" x="644" y="411"/><use href="#plus" x="641" y="414"/><use href="#plus" x="641" y="422"/><use href="#plus" x="508" y="429"/><use href="#plus" x="545" y="430"/><use href="#plus" x="510" y="436"/><use href="#plus" x="513" y="436"/><use href="#plus" x="513" y="440"/><use href="#plus" x="515" y="443"/><use href="#plus" x="517" y="443"/><use href="#plus" x="520" y="445"/><use href="#plus" x="523" y="439"/><use href="#plus" x="525" y="439"/><use href="#plus" x="523" y="443"/><use href="#plus" x="526" y="443"/><use href="#plus" x="523" y="446"/><use href="#plus" x="531" y="441"/><use href="#plus" x="531" y="446"/><use href="#plus" x="535" y="445"/><use href="#plus" x="536" y="437"/><use href="#plus" x="537" y="440"/><use href="#plus" x="538" y="436"/><use href="#plus" x="540" y="436"/><use href="#plus" x="542" y="436"/><use href="#plus" x="544" y="436"/><use href="#plus" x="546" y="436"/><use href="#plus" x="548" y="437"/><use href="#plus" x="539" y="442"/><use href="#plus" x="542" y="443"/><use href="#plus" x="545" y="445"/><use href="#plus" x="546" y="446"/><use href="#plus" x="549" y="442"/><use href="#plus" x="551" y="438"/><use href="#plus" x="553" y="443"/><use href="#plus" x="555" y="436"/><use href="#plus" x="556" y="437"/><use href="#plus" x="558" y="443"/><use href="#plus" x="560" y="447"/><use href="#plus" x="555" y="446"/><use href="#plus" x="552" y="445"/><use href="#plus" x="571" y="433"/><use href="#plus" x="581" y="433"/><use href="#plus" x="587" y="433"/><use href="#plus" x="590" y="432"/><use href="#plus" x="591" y="433"/><use href="#plus" x="596" y="433"/><use href="#plus" x="601" y="433"/><use href="#plus" x="605" y="433"/><use href="#plus" x="607" y="433"/><use href="#plus" x="609" y="428"/><use href="#plus" x="610" y="433"/><use href="#plus" x="616" y="432"/><use href="#plus" x="619" y="433"/><use href="#plus" x="622" y="433"/><use href="#plus" x="625" y="433"/><use href="#plus" x="627" y="433"/><use href="#plus" x="633" y="433"/><use href="#plus" x="577" y="437"/><use href="#plus" x="580" y="438"/><use href="#plus" x="581" y="438"/><use href="#plus" x="578" y="441"/><use href="#plus" x="587" y="437"/><use href="#plus" x="590" y="438"/><use href="#plus" x="592" y="436"/><use href="#plus" x="595" y="437"/><use href="#plus" x="589" y="441"/><use href="#plus" x="587" y="445"/><use href="#plus" x="568" y="445"/><use href="#plus" x="570" y="441"/><use href="#plus" x="576" y="445"/><use href="#plus" x="601" y="440"/><use href="#plus" x="605" y="440"/><use href="#plus" x="612" y="439"/><use href="#plus" x="620" y="437"/><use href="#plus" x="623" y="436"/><use href="#plus" x="625" y="437"/><use href="#plus" x="627" y="438"/><use href="#plus" x="618" y="441"/><use href="#plus" x="622" y="441"/><use href="#plus" x="626" y="440"/><use href="#plus" x="633" y="441"/><use href="#plus" x="628" y="446"/><use href="#plus" x="613" y="448"/><use href="#plus" x="607" y="448"/><use href="#plus" x="610" y="452"/><use href="#plus" x="493" y="451"/><use href="#plus" x="499" y="451"/><use href="#plus" x="498" y="455"/><use href="#plus" x="513" y="451"/><use href="#plus" x="517" y="453"/><use href="#plus" x="485" y="462"/><use href="#plus" x="376" y="475"/><use href="#plus" x="383" y="476"/><use href="#plus" x="394" y="475"/><use href="#plus" x="425" y="473"/><use href="#plus" x="423" y="475"/><use href="#plus" x="427" y="475"/><use href="#plus" x="430" y="476"/><use href="#plus" x="432" y="478"/><use href="#plus" x="436" y="475"/><use href="#plus" x="440" y="478"/><use href="#plus" x="433" y="482"/><use href="#plus" x="439" y="481"/><use href="#plus" x="440" y="484"/><use href="#plus" x="438" y="486"/><use href="#plus" x="447" y="473"/><use href="#plus" x="449" y="474"/><use href="#plus" x="450" y="476"/><use href="#plus" x="448" y="477"/><use href="#plus" x="451" y="478"/><use href="#plus" x="452" y="480"/><use href="#plus" x="450" y="482"/><use href="#plus" x="452" y="483"/><use href="#plus" x="450" y="485"/><use href="#plus" x="449" y="487"/><use href="#plus" x="460" y="476"/><use href="#plus" x="462" y="474"/><use href="#plus" x="464" y="472"/><use href="#plus" x="465" y="476"/><use href="#plus" x="468" y="470"/><use href="#plus" x="470" y="468"/><use href="#plus" x="471" y="469"/><use href="#plus" x="475" y="470"/><use href="#plus" x="478" y="466"/><use href="#plus" x="478" y="468"/><use href="#plus" x="321" y="485"/><use href="#plus" x="350" y="487"/><use href="#plus" x="394" y="493"/><use href="#plus" x="359" y="493"/><use href="#plus" x="364" y="493"/><use href="#plus" x="367" y="493"/><use href="#plus" x="370" y="493"/><use href="#plus" x="372" y="492"/><use href="#plus" x="374" y="493"/><use href="#plus" x="371" y="495"/><use href="#plus" x="326" y="493"/><use href="#plus" x="329" y="493"/><use href="#plus" x="331" y="493"/><use href="#plus" x="333" y="493"/><use href="#plus" x="338" y="493"/><use href="#plus" x="341" y="493"/><use href="#plus" x="327" y="498"/><use href="#plus" x="329" y="500"/><use href="#plus" x="331" y="499"/><use href="#plus" x="328" y="501"/><use href="#plus" x="331" y="503"/><use href="#plus" x="339" y="498"/><use href="#plus" x="340" y="500"/><use href="#plus" x="340" y="503"/><use href="#plus" x="341" y="505"/><use href="#plus" x="328" y="507"/><use href="#plus" x="321" y="503"/><use href="#plus" x="321" y="506"/><use href="#plus" x="321" y="508"/><use href="#plus" x="321" y="514"/><use href="#plus" x="340" y="511"/><use href="#plus" x="343" y="511"/><use href="#plus" x="350" y="506"/><use href="#plus" x="352" y="505"/><use href="#plus" x="354" y="503"/><use href="#plus" x="356" y="502"/><use href="#plus" x="358" y="501"/><use href="#plus" x="360" y="500"/><use href="#plus" x="351" y="503"/><use href="#plus" x="353" y="508"/><use href="#plus" x="371" y="507"/><use href="#plus" x="265" y="485"/><use href="#plus" x="268" y="488"/><use href="#plus" x="275" y="485"/><use href="#plus" x="284" y="485"/><use href="#plus" x="284" y="493"/><use href="#plus" x="308" y="493"/><use href="#plus" x="308" y="503"/><use href="#plus" x="308" y="510"/><use href="#plus" x="314" y="508"/><use href="#plus" x="263" y="513"/><use href="#plus" x="265" y="514"/><use href="#plus" x="267" y="513"/><use href="#plus" x="270" y="511"/><use href="#plus" x="271" y="510"/><use href="#plus" x="273" y="509"/><use href="#plus" x="275" y="510"/><use href="#plus" x="277" y="511"/><use href="#plus" x="279" y="512"/><use href="#plus" x="276" y="514"/><use href="#plus" x="283" y="512"/><use href="#plus" x="282" y="506"/><use href="#plus" x="290" y="506"/><use href="#plus" x="292" y="506"/><use href="#plus" x="295" y="506"/><use href="#plus" x="298" y="506"/><use href="#plus" x="223" y="513"/><use href="#plus" x="226" y="515"/><use href="#plus" x="228" y="517"/><use href="#plus" x="230" y="518"/><use href="#plus" x="231" y="518"/><use href="#plus" x="233" y="520"/><use href="#plus" x="235" y="521"/><use href="#plus" x="233" y="523"/><use href="#plus" x="236" y="523"/><use href="#plus" x="238" y="517"/><use href="#plus" x="243" y="520"/><use href="#plus" x="245" y="518"/><use href="#plus" x="246" y="520"/><use href="#plus" x="220" y="518"/><use href="#plus" x="219" y="521"/><use href="#plus" x="221" y="523"/><use href="#plus" x="220" y="526"/><use href="#plus" x="219" y="533"/><use href="#plus" x="187" y="516"/><use href="#plus" x="173" y="522"/><use href="#plus" x="195" y="523"/><use href="#plus" x="199" y="527"/><use href="#plus" x="204" y="528"/><use href="#plus" x="210" y="518"/><use href="#plus" x="210" y="526"/><use href="#plus" x="210" y="532"/><use href="#plus" x="174" y="536"/><use href="#plus" x="176" y="538"/><use href="#plus" x="180" y="537"/><use href="#plus" x="181" y="538"/><use href="#plus" x="174" y="542"/><use href="#plus" x="180" y="540"/><use href="#plus" x="189" y="538"/><use href="#plus" x="193" y="538"/><use href="#plus" x="195" y="539"/><use href="#plus" x="199" y="536"/><use href="#plus" x="204" y="539"/><use href="#plus" x="161" y="541"/><use href="#plus" x="163" y="542"/><use href="#plus" x="160" y="543"/><use href="#plus" x="161" y="558"/><use href="#plus" x="125" y="558"/><use href="#plus" x="136" y="557"/><use href="#plus" x="140" y="556"/><use href="#plus" x="142" y="556"/><use href="#plus" x="144" y="558"/><use href="#plus" x="147" y="558"/><use href="#plus" x="155" y="558"/><use href="#plus" x="111" y="560"/><use href="#plus" x="111" y="563"/><use href="#plus" x="113" y="565"/><use href="#plus" x="115" y="565"/><use href="#plus" x="98" y="565"/><use href="#plus" x="98" y="570"/><use href="#plus" x="67" y="577"/><use href="#plus" x="68" y="580"/><use href="#plus" x="69" y="581"/><use href="#plus" x="69" y="585"/><use href="#plus" x="68" y="588"/><use href="#plus" x="70" y="588"/><use href="#plus" x="75" y="578"/><use href="#plus" x="77" y="580"/><use href="#plus" x="80" y="579"/><use href="#plus" x="81" y="580"/><use href="#plus" x="76" y="585"/><use href="#plus" x="78" y="585"/><use href="#plus" x="81" y="585"/><use href="#plus" x="81" y="588"/><use href="#plus" x="138" y="541"/><use href="#plus" x="140" y="541"/><use href="#plus" x="141" y="543"/><use href="#plus" x="138" y="545"/><use href="#plus" x="138" y="546"/><use href="#plus" x="147" y="540"/><use href="#plus" x="146" y="543"/><use href="#plus" x="148" y="545"/><use href="#plus" x="153" y="541"/><use href="#plus" x="155" y="542"/><use href="#plus" x="153" y="544"/><use href="#plus" x="152" y="551"/><use href="#plus" x="327" y="405"/><use href="#plus" x="1255" y="246"/><use href="#plus" x="1257" y="246"/><use href="#plus" x="1254" y="249"/><use href="#plus" x="1255" y="250"/><use href="#plus" x="1256" y="248"/><use href="#plus" x="68" y="578"/><use href="#plus" x="66" y="579"/><use href="#plus" x="69" y="583"/><use href="#plus" x="68" y="586"/><use href="#plus" x="68" y="590"/><use href="#plus" x="76" y="578"/><use href="#plus" x="80" y="581"/><use href="#plus" x="77" y="583"/><use href="#plus" x="80" y="583"/><use href="#plus" x="76" y="586"/><use href="#plus" x="78" y="588"/><use href="#plus" x="79" y="589"/><use href="#plus" x="362" y="485"/><use href="#plus" x="365" y="485"/><use href="#plus" x="366" y="485"/><use href="#plus" x="371" y="485"/><use href="#plus" x="372" y="485"/><use href="#plus" x="374" y="485"/><use href="#plus" x="375" y="485"/><use href="#plus" x="376" y="485"/><use href="#plus" x="379" y="485"/><use href="#plus" x="380" y="485"/><use href="#plus" x="382" y="485"/><use href="#plus" x="383" y="485"/><use href="#plus" x="384" y="485"/><use href="#plus" x="386" y="485"/><use href="#plus" x="387" y="485"/><use href="#plus" x="388" y="485"/><use href="#plus" x="390" y="485"/><use href="#plus" x="391" y="485"/><use href="#plus" x="394" y="485"/><use href="#plus" x="396" y="485"/><use href="#plus" x="362" y="487"/><use href="#plus" x="365" y="487"/><use href="#plus" x="372" y="487"/><use href="#plus" x="380" y="487"/><use href="#plus" x="382" y="487"/><use href="#plus" x="394" y="487"/><use href="#plus" x="404" y="485"/><use href="#plus" x="405" y="485"/><use href="#plus" x="408" y="485"/><use href="#plus" x="410" y="485"/><use href="#plus" x="414" y="485"/><use href="#plus" x="415" y="485"/><use href="#plus" x="416" y="485"/><use href="#plus" x="417" y="485"/><use href="#plus" x="419" y="485"/><use href="#plus" x="422" y="485"/><use href="#plus" x="423" y="485"/><use href="#plus" x="425" y="485"/><use href="#plus" x="426" y="485"/><use href="#plus" x="429" y="485"/><use href="#plus" x="406" y="487"/><use href="#plus" x="408" y="487"/><use href="#plus" x="410" y="487"/><use href="#plus" x="421" y="489"/><use href="#plus" x="425" y="487"/><use href="#plus" x="400" y="489"/><use href="#plus" x="538" y="437"/><use href="#plus" x="540" y="437"/><use href="#plus" x="542" y="437"/><use href="#plus" x="544" y="437"/><use href="#plus" x="546" y="437"/><use href="#plus" x="547" y="438"/><use href="#plus" x="545" y="443"/><use href="#plus" x="547" y="444"/><use href="#plus" x="549" y="442"/><use href="#plus" x="551" y="444"/><use href="#plus" x="553" y="443"/><use href="#plus" x="555" y="445"/><use href="#plus" x="557" y="442"/><use href="#plus" x="544" y="446"/><use href="#plus" x="578" y="438"/><use href="#plus" x="580" y="438"/><use href="#plus" x="582" y="438"/><use href="#plus" x="579" y="439"/><use href="#plus" x="382" y="476"/><use href="#plus" x="364" y="494"/><use href="#plus" x="365" y="494"/><use href="#plus" x="394" y="494"/><use href="#plus" x="448" y="474"/><use href="#plus" x="449" y="475"/><use href="#plus" x="450" y="474"/><use href="#plus" x="451" y="475"/><use href="#plus" x="450" y="476"/><use href="#plus" x="474" y="470"/><use href="#plus" x="476" y="469"/><use href="#plus" x="477" y="467"/><use href="#plus" x="478" y="466"/><use href="#plus" x="479" y="465"/><use href="#plus" x="480" y="466"/><use href="#plus" x="476" y="471"/></g>
<g fill="#5555ff"><use href="#g4d" x="1137" y="61"/><use href="#g61" x="1144" y="61"/><use href="#g72" x="1151" y="61"/><use href="#g73" x="1158" y="61"/><use href="#g68" x="1165" y="61"/><use href="#g66" x="1172" y="61"/><use href="#g69" x="1179" y="61"/><use href="#g65" x="1186" y="61"/><use href="#g6c" x="1193" y="61"/><use href="#g64" x="1200" y="61"/></g>
<g fill="#5555ff"><use href="#box" x="1229" y="64"/><use href="#box" x="1229" y="274"/><use href="#box" x="1177" y="292"/><use href="#box" x="1193" y="292"/><use href="#box" x="1194" y="292"/><use href="#box" x="1172" y="301"/><use href="#box" x="1157" y="311"/><use href="#box" x="1159" y="311"/><use href="#box" x="1162" y="311"/><use href="#box" x="1164" y="311"/><use href="#box" x="1151" y="320"/><use href="#box" x="1155" y="320"/><use href="#box" x="1124" y="336"/><use href="#box" x="1096" y="351"/><use href="#box" x="1103" y="351"/><use href="#box" x="1112" y="351"/><use href="#box" x="1076" y="360"/><use href="#box" x="1082" y="360"/><use href="#box" x="1083" y="360"/><use href="#box" x="1065" y="372"/><use href="#box" x="1067" y="372"/><use href="#box" x="1071" y="372"/><use href="#box" x="1072" y="372"/><use href="#box" x="1023" y="419"/><use href="#box" x="987" y="437"/><use href="#box" x="997" y="437"/><use href="#box" x="998" y="437"/><use href="#box" x="1005" y="437"/><use href="#box" x="1006" y="437"/><use href="#box" x="963" y="444"/><use href="#box" x="964" y="444"/><use href="#box" x="973" y="444"/><use href="#box" x="976" y="444"/><use href="#box" x="982" y="444"/><use href="#box" x="954" y="444"/><use href="#box" x="935" y="456"/><use href="#box" x="919" y="456"/><use href="#box" x="914" y="460"/><use href="#box" x="915" y="460"/><use href="#box" x="905" y="462"/><use href="#box" x="906" y="462"/><use href="#box" x="881" y="462"/><use href="#box" x="854" y="475"/><use href="#box" x="865" y="475"/><use href="#box" x="866" y="475"/><use href="#box" x="874" y="475"/><use href="#box" x="803" y="482"/><use href="#box" x="807" y="482"/><use href="#box" x="813" y="482"/><use href="#box" x="825" y="482"/><use href="#box" x="836" y="482"/><use href="#box" x="853" y="482"/><use href="#box" x="865" y="482"/><use href="#box" x="782" y="482"/><use href="#box" x="777" y="485"/><use href="#box" x="764" y="489"/><use href="#box" x="751" y="499"/><use href="#box" x="753" y="499"/><use href="#box" x="744" y="502"/><use href="#box" x="727" y="502"/><use href="#box" x="733" y="502"/><use href="#box" x="734" y="502"/><use href="#box" x="703" y="505"/><use href="#box" x="704" y="505"/><use href="#box" x="684" y="512"/><use href="#box" x="674" y="512"/><use href="#box" x="649" y="515"/><use href="#box" x="506" y="515"/><use href="#box" x="542" y="515"/><use href="#box" x="572" y="515"/><use href="#box" x="573" y="518"/><use href="#box" x="573" y="521"/><use href="#box" x="502" y="522"/><use href="#box" x="506" y="522"/><use href="#box" x="513" y="525"/><use href="#box" x="532" y="522"/><use href="#box" x="540" y="522"/><use href="#box" x="559" y="522"/><use href="#box" x="582" y="522"/><use href="#box" x="586" y="522"/><use href="#box" x="590" y="522"/><use href="#box" x="593" y="522"/><use href="#box" x="595" y="519"/><use href="#box" x="485" y="528"/><use href="#box" x="491" y="528"/><use href="#box" x="496" y="528"/><use href="#box" x="471" y="535"/><use href="#box" x="475" y="543"/><use href="#box" x="421" y="549"/><use href="#box" x="433" y="549"/><use href="#box" x="455" y="549"/><use href="#box" x="416" y="565"/><use href="#box" x="400" y="575"/><use href="#box" x="403" y="575"/><use href="#box" x="397" y="578"/><use href="#box" x="408" y="578"/><use href="#box" x="390" y="581"/><use href="#box" x="369" y="581"/><use href="#box" x="370" y="587"/><use href="#box" x="374" y="587"/><use href="#box" x="347" y="590"/><use href="#box" x="349" y="594"/><use href="#box" x="323" y="594"/><use href="#box" x="328" y="594"/><use href="#box" x="309" y="587"/><use href="#box" x="315" y="594"/><use href="#box" x="312" y="600"/><use href="#box" x="307" y="603"/><use href="#box" x="277" y="603"/><use href="#box" x="217" y="631"/><use href="#box" x="223" y="631"/><use href="#box" x="224" y="631"/><use href="#box" x="239" y="631"/><use href="#box" x="256" y="631"/><use href="#box" x="272" y="631"/><use href="#box" x="180" y="638"/><use href="#box" x="196" y="641"/><use href="#box" x="198" y="641"/><use href="#box" x="210" y="638"/><use href="#box" x="214" y="638"/><use href="#box" x="250" y="641"/><use href="#box" x="255" y="641"/><use href="#box" x="185" y="650"/><use href="#box" x="164" y="657"/><use href="#box" x="183" y="657"/><use href="#box" x="97" y="657"/><use href="#box" x="101" y="657"/><use href="#box" x="92" y="660"/><use href="#box" x="72" y="669"/><use href="#box" x="82" y="669"/><use href="#box" x="145" y="657"/><use href="#box" x="150" y="657"/><use href="#box" x="152" y="657"/><use href="#box" x="1258" y="238"/></g>
<g fill="#ff55ff"><use href="#g54" x="1186" y="72"/><use href="#g4e" x="1193" y="72"/><use href="#g47" x="1200" y="72"/></g>
<g fill="#ff55ff"><use href="#x" x="1229" y="75"/><use href="#x" x="274" y="69"/><use href="#x" x="85" y="100"/><use href="#x" x="362" y="227"/><use href="#x" x="93" y="256"/><use href="#x" x="679" y="46"/><use href="#x" x="615" y="75"/><use href="#x" x="985" y="106"/><use href="#x" x="1016" y="155"/><use href="#x" x="812" y="187"/><use href="#x" x="954" y="224"/><use href="#x" x="1121" y="264"/><use href="#x" x="1123" y="263"/><use href="#x" x="1125" y="262"/><use href="#x" x="1127" y="262"/><use href="#x" x="1129" y="261"/><use href="#x" x="1138" y="259"/><use href="#x" x="1140" y="258"/><use href="#x" x="1142" y="259"/><use href="#x" x="1151" y="256"/><use href="#x" x="1153" y="255"/><use href="#x" x="1155" y="255"/><use href="#x" x="1157" y="255"/><use href="#x" x="1160" y="254"/><use href="#x" x="1161" y="253"/><use href="#x" x="1166" y="251"/><use href="#x" x="1168" y="251"/><use href="#x" x="1170" y="251"/><use href="#x" x="1172" y="250"/><use href="#x" x="1174" y="250"/><use href="#x" x="1176" y="249"/><use href="#x" x="1178" y="248"/><use href="#x" x="1180" y="248"/><use href="#x" x="1181" y="247"/><use href="#x" x="1183" y="246"/><use href="#x" x="1185" y="245"/><use href="#x" x="1187" y="241"/><use href="#x" x="1189" y="239"/><use href="#x" x="1191" y="238"/><use href="#x" x="1193" y="239"/><use href="#x" x="1195" y="241"/><use href="#x" x="1196" y="241"/><use href="#x" x="1198" y="240"/><use href="#x" x="1204" y="247"/><use href="#x" x="1206" y="246"/><use href="#x" x="1211" y="245"/><use href="#x" x="1213" y="245"/><use href="#x" x="1016" y="293"/><use href="#x" x="1018" y="292"/><use href="#x" x="1020" y="292"/><use href="#x" x="1022" y="291"/><use href="#x" x="1025" y="290"/><use href="#x" x="1027" y="289"/><use href="#x" x="1029" y="289"/><use href="#x" x="1030" y="289"/><use href="#x" x="1033" y="288"/><use href="#x" x="1050" y="284"/><use href="#x" x="1052" y="284"/><use href="#x" x="1054" y="284"/><use href="#x" x="1056" y="283"/><use href="#x" x="1058" y="284"/><use href="#x" x="1060" y="282"/><use href="#x" x="1063" y="281"/><use href="#x" x="1065" y="281"/><use href="#x" x="1067" y="281"/><use href="#x" x="1069" y="280"/><use href="#x" x="1070" y="280"/><use href="#x" x="1072" y="280"/><use href="#x" x="1073" y="279"/><use href="#x" x="1075" y="278"/><use href="#x" x="1077" y="279"/><use href="#x" x="1079" y="278"/><use href="#x" x="1081" y="278"/><use href="#x" x="1082" y="276"/><use href="#x" x="1084" y="277"/><use href="#x" x="1086" y="277"/><use href="#x" x="1087" y="276"/><use href="#x" x="1090" y="276"/><use href="#x" x="1094" y="273"/><use href="#x" x="1097" y="273"/><use href="#x" x="1099" y="272"/><use href="#x" x="1100" y="272"/><use href="#x" x="1102" y="271"/><use href="#x" x="1104" y="271"/><use href="#x" x="1106" y="271"/><use href="#x" x="1108" y="270"/><use href="#x" x="1111" y="270"/><use href="#x" x="1113" y="269"/><use href="#x" x="1115" y="270"/><use href="#x" x="1116" y="268"/><use href="#x" x="1117" y="269"/><use href="#x" x="1119" y="268"/><use href="#x" x="960" y="313"/><use href="#x" x="963" y="313"/><use href="#x" x="966" y="312"/><use href="#x" x="968" y="312"/><use href="#x" x="977" y="311"/><use href="#x" x="980" y="309"/><use href="#x" x="981" y="311"/><use href="#x" x="983" y="309"/><use href="#x" x="985" y="309"/><use href="#x" x="988" y="309"/><use href="#x" x="997" y="308"/><use href="#x" x="1003" y="305"/><use href="#x" x="1007" y="306"/><use href="#x" x="1009" y="305"/><use href="#x" x="1012" y="305"/><use href="#x" x="828" y="344"/><use href="#x" x="829" y="344"/><use href="#x" x="832" y="342"/><use href="#x" x="835" y="342"/><use href="#x" x="837" y="341"/><use href="#x" x="839" y="342"/><use href="#x" x="850" y="342"/><use href="#x" x="853" y="342"/><use href="#x" x="856" y="341"/><use href="#x" x="869" y="338"/><use href="#x" x="871" y="338"/><use href="#x" x="873" y="339"/><use href="#x" x="876" y="339"/><use href="#x" x="883" y="335"/><use href="#x" x="884" y="335"/><use href="#x" x="885" y="334"/><use href="#x" x="888" y="333"/><use href="#x" x="889" y="332"/><use href="#x" x="890" y="332"/><use href="#x" x="891" y="331"/><use href="#x" x="893" y="330"/><use href="#x" x="895" y="330"/><use href="#x" x="903" y="330"/><use href="#x" x="906" y="329"/><use href="#x" x="908" y="328"/><use href="#x" x="911" y="327"/><use href="#x" x="913" y="326"/><use href="#x" x="916" y="326"/><use href="#x" x="918" y="325"/><use href="#x" x="925" y="321"/><use href="#x" x="927" y="321"/><use href="#x" x="930" y="320"/><use href="#x" x="933" y="321"/><use href="#x" x="935" y="318"/><use href="#x" x="938" y="320"/><use href="#x" x="938" y="318"/><use href="#x" x="941" y="318"/><use href="#x" x="943" y="318"/><use href="#x" x="944" y="318"/><use href="#x" x="945" y="317"/><use href="#x" x="948" y="317"/><use href="#x" x="950" y="316"/><use href="#x" x="801" y="355"/><use href="#x" x="803" y="354"/><use href="#x" x="813" y="352"/><use href="#x" x="814" y="353"/><use href="#x" x="820" y="349"/><use href="#x" x="823" y="348"/><use href="#x" x="852" y="345"/><use href="#x" x="863" y="403"/><use href="#x" x="824" y="348"/><use href="#x" x="827" y="347"/><use href="#x" x="829" y="347"/><use href="#x" x="831" y="347"/><use href="#x" x="832" y="346"/><use href="#x" x="834" y="346"/><use href="#x" x="835" y="346"/><use href="#x" x="837" y="346"/><use href="#x" x="839" y="345"/><use href="#x" x="773" y="360"/><use href="#x" x="775" y="359"/><use href="#x" x="777" y="359"/><use href="#x" x="779" y="358"/><use href="#x" x="781" y="358"/><use href="#x" x="783" y="358"/><use href="#x" x="736" y="365"/><use href="#x" x="740" y="366"/><use href="#x" x="742" y="366"/><use href="#x" x="744" y="367"/><use href="#x" x="746" y="367"/><use href="#x" x="748" y="368"/><use href="#x" x="750" y="368"/><use href="#x" x="752" y="369"/><use href="#x" x="754" y="370"/><use href="#x" x="756" y="370"/><use href="#x" x="758" y="371"/><use href="#x" x="761" y="372"/><use href="#x" x="763" y="373"/><use href="#x" x="765" y="373"/><use href="#x" x="767" y="374"/><use href="#x" x="770" y="375"/><use href="#x" x="726" y="389"/><use href="#x" x="728" y="390"/><use href="#x" x="730" y="388"/><use href="#x" x="708" y="407"/><use href="#x" x="711" y="408"/><use href="#x" x="714" y="408"/><use href="#x" x="716" y="409"/><use href="#x" x="719" y="410"/><use href="#x" x="723" y="411"/><use href="#x" x="689" y="415"/><use href="#x" x="691" y="415"/><use href="#x" x="693" y="415"/><use href="#x" x="663" y="417"/><use href="#x" x="665" y="416"/><use href="#x" x="645" y="420"/><use href="#x" x="646" y="421"/><use href="#x" x="651" y="421"/><use href="#x" x="653" y="422"/><use href="#x" x="671" y="424"/><use href="#x" x="677" y="425"/><use href="#x" x="680" y="426"/><use href="#x" x="682" y="426"/><use href="#x" x="629" y="427"/><use href="#x" x="573" y="439"/><use href="#x" x="555" y="455"/><use href="#x" x="590" y="455"/><use href="#x" x="588" y="458"/><use href="#x" x="591" y="457"/><use href="#x" x="593" y="458"/><use href="#x" x="595" y="458"/><use href="#x" x="596" y="458"/><use href="#x" x="593" y="460"/><use href="#x" x="597" y="460"/><use href="#x" x="513" y="473"/><use href="#x" x="554" y="471"/><use href="#x" x="559" y="471"/><use href="#x" x="548" y="475"/><use href="#x" x="530" y="476"/><use href="#x" x="527" y="478"/><use href="#x" x="529" y="479"/><use href="#x" x="531" y="478"/><use href="#x" x="523" y="480"/><use href="#x" x="533" y="476"/><use href="#x" x="538" y="476"/><use href="#x" x="503" y="481"/><use href="#x" x="505" y="481"/><use href="#x" x="498" y="482"/><use href="#x" x="494" y="483"/><use href="#x" x="492" y="485"/><use href="#x" x="488" y="485"/><use href="#x" x="485" y="485"/><use href="#x" x="482" y="486"/><use href="#x" x="480" y="486"/><use href="#x" x="490" y="486"/><use href="#x" x="437" y="490"/><use href="#x" x="440" y="490"/><use href="#x" x="442" y="491"/><use href="#x" x="445" y="491"/><use href="#x" x="446" y="492"/><use href="#x" x="450" y="493"/><use href="#x" x="453" y="494"/><use href="#x" x="455" y="495"/><use href="#x" x="457" y="495"/><use href="#x" x="463" y="499"/><use href="#x" x="466" y="498"/><use href="#x" x="468" y="497"/><use href="#x" x="470" y="496"/><use href="#x" x="428" y="525"/><use href="#x" x="431" y="525"/><use href="#x" x="433" y="525"/><use href="#x" x="400" y="530"/><use href="#x" x="416" y="527"/><use href="#x" x="418" y="528"/><use href="#x" x="345" y="536"/><use href="#x" x="347" y="536"/><use href="#x" x="350" y="535"/><use href="#x" x="352" y="536"/><use href="#x" x="357" y="535"/><use href="#x" x="320" y="544"/><use href="#x" x="323" y="543"/><use href="#x" x="327" y="543"/><use href="#x" x="332" y="542"/><use href="#x" x="266" y="496"/><use href="#x" x="260" y="551"/><use href="#x" x="263" y="551"/><use href="#x" x="265" y="552"/><use href="#x" x="268" y="552"/><use href="#x" x="270" y="553"/><use href="#x" x="273" y="554"/><use href="#x" x="275" y="554"/><use href="#x" x="278" y="555"/><use href="#x" x="280" y="556"/><use href="#x" x="283" y="557"/><use href="#x" x="285" y="557"/><use href="#x" x="288" y="558"/><use href="#x" x="290" y="559"/><use href="#x" x="293" y="560"/><use href="#x" x="295" y="561"/><use href="#x" x="297" y="561"/><use href="#x" x="301" y="563"/><use href="#x" x="304" y="563"/><use href="#x" x="307" y="564"/><use href="#x" x="308" y="549"/><use href="#x" x="311" y="548"/><use href="#x" x="315" y="547"/><use href="#x" x="318" y="546"/><use href="#x" x="254" y="568"/><use href="#x" x="256" y="569"/><use href="#x" x="258" y="568"/><use href="#x" x="185" y="585"/><use href="#x" x="203" y="582"/><use href="#x" x="205" y="581"/><use href="#x" x="208" y="582"/><use href="#x" x="211" y="581"/><use href="#x" x="216" y="579"/><use href="#x" x="219" y="578"/><use href="#x" x="221" y="579"/><use href="#x" x="226" y="578"/><use href="#x" x="230" y="576"/><use href="#x" x="232" y="575"/><use href="#x" x="235" y="575"/><use href="#x" x="237" y="572"/><use href="#x" x="240" y="571"/><use href="#x" x="242" y="572"/><use href="#x" x="245" y="573"/><use href="#x" x="247" y="573"/><use href="#x" x="249" y="574"/><use href="#x" x="161" y="595"/><use href="#x" x="163" y="595"/><use href="#x" x="166" y="594"/><use href="#x" x="168" y="593"/><use href="#x" x="171" y="593"/><use href="#x" x="175" y="591"/><use href="#x" x="178" y="591"/><use href="#x" x="180" y="590"/><use href="#x" x="186" y="587"/><use href="#x" x="189" y="586"/><use href="#x" x="191" y="588"/><use href="#x" x="194" y="588"/><use href="#x" x="196" y="589"/><use href="#x" x="200" y="590"/><use href="#x" x="202" y="589"/><use href="#x" x="210" y="585"/><use href="#x" x="213" y="585"/><use href="#x" x="64" y="620"/><use href="#x" x="66" y="619"/><use href="#x" x="70" y="618"/><use href="#x" x="73" y="618"/><use href="#x" x="75" y="617"/><use href="#x" x="78" y="615"/><use href="#x" x="80" y="613"/><use href="#x" x="83" y="613"/><use href="#x" x="85" y="614"/><use href="#x" x="88" y="615"/><use href="#x" x="91" y="616"/><use href="#x" x="93" y="616"/><use href="#x" x="96" y="616"/><use href="#x" x="98" y="613"/><use href="#x" x="100" y="611"/><use href="#x" x="101" y="610"/><use href="#x" x="103" y="610"/><use href="#x" x="115" y="607"/><use href="#x" x="117" y="606"/><use href="#x" x="120" y="606"/><use href="#x" x="122" y="605"/><use href="#x" x="125" y="605"/><use href="#x" x="131" y="603"/><use href="#x" x="133" y="603"/><use href="#x" x="135" y="604"/><use href="#x" x="145" y="599"/><use href="#x" x="148" y="598"/><use href="#x" x="150" y="598"/><use href="#x" x="152" y="597"/><use href="#x" x="157" y="596"/><use href="#x" x="1153" y="616"/><use href="#x" x="1210" y="808"/><use href="#x" x="1258" y="808"/><use href="#x" x="786" y="402"/><use href="#x" x="787" y="401"/><use href="#x" x="794" y="401"/><use href="#x" x="794" y="402"/><use href="#x" x="863" y="401"/><use href="#x" x="863" y="402"/><use href="#x" x="875" y="157"/><use href="#x" x="877" y="157"/><use href="#x" x="878" y="157"/><use href="#x" x="879" y="157"/><use href="#x" x="880" y="157"/><use href="#x" x="628" y="265"/><use href="#x" x="630" y="266"/><use href="#x" x="632" y="266"/><use href="#x" x="633" y="266"/><use href="#x" x="635" y="266"/><use href="#x" x="419" y="687"/><use href="#x" x="422" y="688"/><use href="#x" x="380" y="832"/><use href="#x" x="382" y="831"/><use href="#x" x="383" y="831"/><use href="#x" x="897" y="754"/><use href="#x" x="898" y="755"/><use href="#x" x="902" y="756"/><use href="#x" x="320" y="545"/><use href="#x" x="321" y="545"/><use href="#x" x="322" y="545"/><use href="#x" x="324" y="544"/><use href="#x" x="324" y="544"/><use href="#x" x="326" y="544"/><use href="#x" x="336" y="542"/><use href="#x" x="337" y="542"/><use href="#x" x="339" y="541"/><use href="#x" x="341" y="540"/><use href="#x" x="342" y="539"/><use href="#x" x="343" y="539"/><use href="#x" x="344" y="537"/><use href="#x" x="345" y="537"/><use href="#x" x="346" y="536"/><use href="#x" x="348" y="536"/><use href="#x" x="350" y="535"/><use href="#x" x="351" y="535"/></g>
<g fill="#55ffff"><use href="#g57" x="1165" y="83"/><use href="#g49" x="1172" y="83"/><use href="#g59" x="1186" y="83"/><use href="#g41" x="1193" y="83"/><use href="#g43" x="1200" y="83"/></g>
<g fill="#55ffff"><use href="#tri" x="1229" y="86"/><use href="#tri" x="199" y="209"/><use href="#tri" x="1128" y="181"/><use href="#tri" x="1177" y="96"/><use href="#tri" x="1220" y="262"/><use href="#tri" x="1208" y="251"/><use href="#tri" x="1191" y="254"/><use href="#tri" x="1190" y="258"/><use href="#tri" x="1193" y="261"/><use href="#tri" x="1181" y="265"/><use href="#tri" x="1169" y="269"/><use href="#tri" x="1173" y="268"/><use href="#tri" x="1156" y="274"/><use href="#tri" x="1158" y="272"/><use href="#tri" x="1151" y="276"/><use href="#tri" x="1139" y="279"/><use href="#tri" x="1194" y="245"/><use href="#tri" x="1112" y="282"/><use href="#tri" x="1103" y="283"/><use href="#tri" x="1103" y="286"/><use href="#tri" x="1083" y="289"/><use href="#tri" x="1076" y="290"/><use href="#tri" x="1073" y="293"/><use href="#tri" x="1071" y="295"/><use href="#tri" x="1065" y="297"/><use href="#tri" x="1053" y="300"/><use href="#tri" x="996" y="301"/><use href="#tri" x="998" y="305"/><use href="#tri" x="1005" y="307"/><use href="#tri" x="1006" y="310"/><use href="#tri" x="988" y="314"/><use href="#tri" x="988" y="317"/><use href="#tri" x="982" y="321"/><use href="#tri" x="974" y="322"/><use href="#tri" x="964" y="324"/><use href="#tri" x="960" y="327"/><use href="#tri" x="963" y="333"/><use href="#tri" x="958" y="328"/><use href="#tri" x="927" y="337"/><use href="#tri" x="915" y="343"/><use href="#tri" x="874" y="343"/><use href="#tri" x="890" y="347"/><use href="#tri" x="882" y="352"/><use href="#tri" x="906" y="350"/><use href="#tri" x="914" y="346"/><use href="#tri" x="871" y="356"/><use href="#tri" x="865" y="361"/><use href="#tri" x="836" y="372"/><use href="#tri" x="832" y="371"/><use href="#tri" x="825" y="375"/><use href="#tri" x="825" y="377"/><use href="#tri" x="825" y="381"/><use href="#tri" x="818" y="380"/><use href="#tri" x="815" y="384"/><use href="#tri" x="815" y="387"/><use href="#tri" x="801" y="389"/><use href="#tri" x="806" y="391"/><use href="#tri" x="813" y="394"/><use href="#tri" x="791" y="388"/><use href="#tri" x="786" y="396"/><use href="#tri" x="793" y="396"/><use href="#tri" x="781" y="397"/><use href="#tri" x="777" y="400"/><use href="#tri" x="751" y="403"/><use href="#tri" x="764" y="404"/><use href="#tri" x="754" y="407"/><use href="#tri" x="750" y="411"/><use href="#tri" x="753" y="413"/><use href="#tri" x="744" y="416"/><use href="#tri" x="732" y="418"/><use href="#tri" x="733" y="421"/><use href="#tri" x="727" y="425"/><use href="#tri" x="727" y="428"/><use href="#tri" x="717" y="429"/><use href="#tri" x="711" y="433"/><use href="#tri" x="696" y="438"/><use href="#tri" x="695" y="441"/><use href="#tri" x="704" y="436"/><use href="#tri" x="651" y="443"/><use href="#tri" x="641" y="446"/><use href="#tri" x="646" y="447"/><use href="#tri" x="641" y="451"/><use href="#tri" x="649" y="453"/><use href="#tri" x="506" y="455"/><use href="#tri" x="571" y="458"/><use href="#tri" x="572" y="460"/><use href="#tri" x="564" y="461"/><use href="#tri" x="559" y="464"/><use href="#tri" x="559" y="467"/><use href="#tri" x="558" y="469"/><use href="#tri" x="549" y="474"/><use href="#tri" x="546" y="476"/><use href="#tri" x="544" y="478"/><use href="#tri" x="532" y="480"/><use href="#tri" x="533" y="483"/><use href="#tri" x="506" y="485"/><use href="#tri" x="513" y="488"/><use href="#tri" x="513" y="491"/><use href="#tri" x="497" y="493"/><use href="#tri" x="488" y="498"/><use href="#tri" x="491" y="501"/><use href="#tri" x="485" y="506"/><use href="#tri" x="496" y="495"/><use href="#tri" x="471" y="508"/><use href="#tri" x="475" y="511"/><use href="#tri" x="475" y="514"/><use href="#tri" x="455" y="528"/><use href="#tri" x="450" y="531"/><use href="#tri" x="436" y="533"/><use href="#tri" x="435" y="535"/><use href="#tri" x="430" y="538"/><use href="#tri" x="431" y="541"/><use href="#tri" x="414" y="543"/><use href="#tri" x="463" y="523"/><use href="#tri" x="400" y="549"/><use href="#tri" x="403" y="551"/><use href="#tri" x="416" y="546"/><use href="#tri" x="414" y="545"/><use href="#tri" x="386" y="554"/><use href="#tri" x="376" y="556"/><use href="#tri" x="352" y="558"/><use href="#tri" x="350" y="561"/><use href="#tri" x="349" y="564"/><use href="#tri" x="349" y="567"/><use href="#tri" x="339" y="570"/><use href="#tri" x="328" y="571"/><use href="#tri" x="329" y="574"/><use href="#tri" x="325" y="575"/><use href="#tri" x="322" y="578"/><use href="#tri" x="295" y="591"/><use href="#tri" x="312" y="590"/><use href="#tri" x="301" y="599"/><use href="#tri" x="288" y="604"/><use href="#tri" x="288" y="606"/><use href="#tri" x="278" y="608"/><use href="#tri" x="274" y="611"/><use href="#tri" x="268" y="613"/><use href="#tri" x="261" y="615"/><use href="#tri" x="256" y="620"/><use href="#tri" x="240" y="624"/><use href="#tri" x="247" y="626"/><use href="#tri" x="247" y="631"/><use href="#tri" x="233" y="634"/><use href="#tri" x="223" y="636"/><use href="#tri" x="222" y="638"/><use href="#tri" x="220" y="640"/><use href="#tri" x="217" y="642"/><use href="#tri" x="214" y="645"/><use href="#tri" x="210" y="646"/><use href="#tri" x="209" y="650"/><use href="#tri" x="200" y="652"/><use href="#tri" x="200" y="655"/><use href="#tri" x="197" y="657"/><use href="#tri" x="194" y="660"/><use href="#tri" x="188" y="663"/><use href="#tri" x="187" y="666"/><use href="#tri" x="183" y="667"/><use href="#tri" x="174" y="670"/><use href="#tri" x="174" y="671"/><use href="#tri" x="164" y="674"/><use href="#tri" x="160" y="677"/><use href="#tri" x="307" y="601"/><use href="#tri" x="315" y="595"/><use href="#tri" x="72" y="709"/><use href="#tri" x="75" y="706"/><use href="#tri" x="91" y="704"/><use href="#tri" x="94" y="701"/><use href="#tri" x="97" y="700"/><use href="#tri" x="101" y="698"/><use href="#tri" x="106" y="695"/><use href="#tri" x="138" y="693"/><use href="#tri" x="142" y="691"/><use href="#tri" x="139" y="686"/><use href="#tri" x="145" y="684"/><use href="#tri" x="150" y="679"/><use href="#tri" x="152" y="681"/><use href="#tri" x="1236" y="243"/><use href="#tri" x="1240" y="241"/><use href="#tri" x="1253" y="238"/></g>
<g fill="#ffff55"><use href="#g57" x="1172" y="94"/><use href="#g49" x="1179" y="94"/><use href="#g52" x="1193" y="94"/><use href="#g48" x="1200" y="94"/></g>
<g fill="#ffff55"><use href="#star" x="1229" y="97"/><use href="#star" x="852" y="92"/><use href="#star" x="1253" y="256"/><use href="#star" x="1248" y="264"/><use href="#star" x="1235" y="274"/><use href="#star" x="1218" y="272"/><use href="#star" x="1220" y="272"/><use href="#star" x="1208" y="272"/><use href="#star" x="1201" y="276"/><use href="#star" x="1196" y="276"/><use href="#star" x="1193" y="279"/><use href="#star" x="1190" y="280"/><use href="#star" x="1188" y="280"/><use href="#star" x="1185" y="280"/><use href="#star" x="1181" y="278"/><use href="#star" x="1169" y="282"/><use href="#star" x="1124" y="293"/><use href="#star" x="1126" y="292"/><use href="#star" x="1128" y="291"/><use href="#star" x="1135" y="291"/><use href="#star" x="1137" y="291"/><use href="#star" x="1139" y="291"/><use href="#star" x="1105" y="295"/><use href="#star" x="1103" y="296"/><use href="#star" x="1101" y="298"/><use href="#star" x="1100" y="300"/><use href="#star" x="1096" y="298"/><use href="#star" x="1101" y="301"/><use href="#star" x="1083" y="302"/><use href="#star" x="1076" y="302"/><use href="#star" x="1074" y="305"/><use href="#star" x="1073" y="306"/><use href="#star" x="1047" y="301"/><use href="#star" x="1050" y="301"/><use href="#star" x="1052" y="301"/><use href="#star" x="1047" y="303"/><use href="#star" x="1047" y="306"/><use href="#star" x="1055" y="302"/><use href="#star" x="1035" y="306"/><use href="#star" x="1033" y="308"/><use href="#star" x="1030" y="310"/><use href="#star" x="1028" y="311"/><use href="#star" x="1025" y="311"/><use href="#star" x="1022" y="312"/><use href="#star" x="1007" y="314"/><use href="#star" x="1007" y="316"/><use href="#star" x="1007" y="319"/><use href="#star" x="995" y="321"/><use href="#star" x="998" y="325"/><use href="#star" x="1000" y="325"/><use href="#star" x="983" y="329"/><use href="#star" x="988" y="331"/><use href="#star" x="983" y="332"/><use href="#star" x="982" y="335"/><use href="#star" x="996" y="331"/><use href="#star" x="996" y="335"/><use href="#star" x="962" y="335"/><use href="#star" x="966" y="336"/><use href="#star" x="970" y="336"/><use href="#star" x="973" y="336"/><use href="#star" x="961" y="342"/><use href="#star" x="949" y="328"/><use href="#star" x="957" y="335"/><use href="#star" x="958" y="337"/><use href="#star" x="937" y="339"/><use href="#star" x="940" y="339"/><use href="#star" x="942" y="339"/><use href="#star" x="927" y="340"/><use href="#star" x="926" y="343"/><use href="#star" x="915" y="343"/><use href="#star" x="867" y="355"/><use href="#star" x="869" y="357"/><use href="#star" x="881" y="356"/><use href="#star" x="882" y="359"/><use href="#star" x="880" y="358"/><use href="#star" x="890" y="353"/><use href="#star" x="903" y="347"/><use href="#star" x="905" y="348"/><use href="#star" x="906" y="346"/><use href="#star" x="915" y="346"/><use href="#star" x="858" y="363"/><use href="#star" x="860" y="363"/><use href="#star" x="855" y="362"/><use href="#star" x="848" y="367"/><use href="#star" x="835" y="368"/><use href="#star" x="833" y="371"/><use href="#star" x="828" y="373"/><use href="#star" x="820" y="372"/><use href="#star" x="804" y="374"/><use href="#star" x="806" y="375"/><use href="#star" x="801" y="377"/><use href="#star" x="800" y="378"/><use href="#star" x="811" y="374"/><use href="#star" x="816" y="376"/><use href="#star" x="783" y="372"/><use href="#star" x="791" y="378"/><use href="#star" x="799" y="378"/><use href="#star" x="755" y="386"/><use href="#star" x="756" y="388"/><use href="#star" x="762" y="384"/><use href="#star" x="762" y="390"/><use href="#star" x="762" y="393"/><use href="#star" x="762" y="396"/><use href="#star" x="775" y="387"/><use href="#star" x="776" y="390"/><use href="#star" x="778" y="391"/><use href="#star" x="745" y="389"/><use href="#star" x="750" y="391"/><use href="#star" x="751" y="393"/><use href="#star" x="734" y="390"/><use href="#star" x="727" y="398"/><use href="#star" x="730" y="398"/><use href="#star" x="715" y="401"/><use href="#star" x="717" y="400"/><use href="#star" x="713" y="402"/><use href="#star" x="710" y="404"/><use href="#star" x="705" y="405"/><use href="#star" x="702" y="406"/><use href="#star" x="692" y="406"/><use href="#star" x="656" y="399"/><use href="#star" x="661" y="401"/><use href="#star" x="665" y="405"/><use href="#star" x="683" y="416"/><use href="#star" x="695" y="414"/><use href="#star" x="701" y="416"/><use href="#star" x="691" y="420"/><use href="#star" x="689" y="421"/><use href="#star" x="686" y="423"/><use href="#star" x="674" y="428"/><use href="#star" x="686" y="428"/><use href="#star" x="656" y="430"/><use href="#star" x="643" y="432"/><use href="#star" x="671" y="433"/><use href="#star" x="651" y="437"/><use href="#star" x="656" y="436"/><use href="#star" x="670" y="437"/><use href="#star" x="671" y="435"/><use href="#star" x="641" y="483"/><use href="#star" x="649" y="493"/><use href="#star" x="641" y="435"/><use href="#star" x="608" y="482"/><use href="#star" x="617" y="481"/><use href="#star" x="627" y="481"/><use href="#star" x="634" y="481"/><use href="#star" x="609" y="485"/><use href="#star" x="609" y="488"/><use href="#star" x="607" y="490"/><use href="#star" x="610" y="491"/><use href="#star" x="596" y="487"/><use href="#star" x="586" y="485"/><use href="#star" x="578" y="486"/><use href="#star" x="572" y="488"/><use href="#star" x="576" y="488"/><use href="#star" x="580" y="489"/><use href="#star" x="583" y="490"/><use href="#star" x="587" y="491"/><use href="#star" x="577" y="491"/><use href="#star" x="581" y="492"/><use href="#star" x="586" y="493"/><use href="#star" x="590" y="493"/><use href="#star" x="621" y="491"/><use href="#star" x="625" y="490"/><use href="#star" x="628" y="489"/><use href="#star" x="623" y="493"/><use href="#star" x="627" y="492"/><use href="#star" x="513" y="497"/><use href="#star" x="516" y="500"/><use href="#star" x="517" y="503"/><use href="#star" x="512" y="500"/><use href="#star" x="523" y="495"/><use href="#star" x="526" y="506"/><use href="#star" x="554" y="509"/><use href="#star" x="498" y="501"/><use href="#star" x="497" y="506"/><use href="#star" x="495" y="508"/><use href="#star" x="491" y="511"/><use href="#star" x="485" y="515"/><use href="#star" x="480" y="518"/><use href="#star" x="531" y="494"/><use href="#star" x="536" y="494"/><use href="#star" x="542" y="495"/><use href="#star" x="547" y="494"/><use href="#star" x="552" y="494"/><use href="#star" x="558" y="495"/><use href="#star" x="563" y="494"/><use href="#star" x="567" y="494"/><use href="#star" x="589" y="495"/><use href="#star" x="321" y="536"/><use href="#star" x="328" y="538"/><use href="#star" x="332" y="536"/><use href="#star" x="338" y="535"/><use href="#star" x="340" y="538"/><use href="#star" x="350" y="541"/><use href="#star" x="352" y="540"/><use href="#star" x="358" y="541"/><use href="#star" x="363" y="542"/><use href="#star" x="368" y="535"/><use href="#star" x="371" y="535"/><use href="#star" x="375" y="533"/><use href="#star" x="380" y="535"/><use href="#star" x="382" y="533"/><use href="#star" x="385" y="535"/><use href="#star" x="388" y="536"/><use href="#star" x="391" y="536"/><use href="#star" x="395" y="536"/><use href="#star" x="381" y="527"/><use href="#star" x="394" y="527"/><use href="#star" x="401" y="535"/><use href="#star" x="405" y="531"/><use href="#star" x="406" y="528"/><use href="#star" x="408" y="531"/><use href="#star" x="416" y="527"/><use href="#star" x="417" y="530"/><use href="#star" x="425" y="527"/><use href="#star" x="432" y="530"/><use href="#star" x="436" y="530"/><use href="#star" x="439" y="521"/><use href="#star" x="440" y="527"/><use href="#star" x="445" y="528"/><use href="#star" x="447" y="531"/><use href="#star" x="450" y="521"/><use href="#star" x="450" y="525"/><use href="#star" x="452" y="526"/><use href="#star" x="464" y="515"/><use href="#star" x="464" y="521"/><use href="#star" x="462" y="528"/><use href="#star" x="470" y="518"/><use href="#star" x="476" y="518"/><use href="#star" x="478" y="518"/><use href="#star" x="321" y="550"/><use href="#star" x="342" y="580"/><use href="#star" x="268" y="534"/><use href="#star" x="284" y="535"/><use href="#star" x="288" y="545"/><use href="#star" x="298" y="548"/><use href="#star" x="288" y="551"/><use href="#star" x="292" y="552"/><use href="#star" x="277" y="564"/><use href="#star" x="272" y="571"/><use href="#star" x="274" y="572"/><use href="#star" x="273" y="575"/><use href="#star" x="275" y="578"/><use href="#star" x="240" y="580"/><use href="#star" x="242" y="581"/><use href="#star" x="232" y="583"/><use href="#star" x="199" y="583"/><use href="#star" x="247" y="583"/><use href="#star" x="263" y="583"/><use href="#star" x="320" y="536"/><use href="#star" x="174" y="586"/><use href="#star" x="192" y="587"/><use href="#star" x="219" y="586"/><use href="#star" x="210" y="594"/><use href="#star" x="177" y="603"/><use href="#star" x="193" y="611"/><use href="#star" x="199" y="616"/><use href="#star" x="222" y="614"/><use href="#star" x="174" y="615"/><use href="#star" x="162" y="621"/><use href="#star" x="152" y="591"/><use href="#star" x="142" y="606"/><use href="#star" x="142" y="621"/><use href="#star" x="139" y="624"/><use href="#star" x="111" y="627"/><use href="#star" x="106" y="631"/><use href="#star" x="97" y="630"/><use href="#star" x="91" y="648"/><use href="#star" x="68" y="662"/><use href="#star" x="70" y="665"/><use href="#star" x="75" y="661"/><use href="#star" x="78" y="660"/><use href="#star" x="81" y="661"/><use href="#star" x="88" y="662"/><use href="#star" x="80" y="666"/><use href="#star" x="157" y="621"/><use href="#star" x="66" y="661"/><use href="#star" x="1256" y="238"/><use href="#star" x="1257" y="240"/><use href="#star" x="1257" y="242"/><use href="#star" x="380" y="527"/><use href="#star" x="383" y="527"/><use href="#star" x="374" y="534"/><use href="#star" x="371" y="536"/><use href="#star" x="373" y="536"/><use href="#star" x="383" y="535"/><use href="#star" x="386" y="536"/><use href="#star" x="340" y="536"/><use href="#star" x="341" y="537"/></g>
<g fill="#aa0000"><use href="#g47" x="1158" y="105"/><use href="#g4d" x="1165" y="105"/><use href="#g39" x="1172" y="105"/><use href="#g39" x="1179" y="105"/><use href="#g47" x="1193" y="105"/><use href="#g33" x="1200" y="105"/></g>
<g fill="#aa0000"><use href="#dia" x="1229" y="108"/><use href="#dia" x="223" y="89"/><use href="#dia" x="849" y="174"/><use href="#dia" x="1191" y="238"/><use href="#dia" x="1190" y="244"/><use href="#dia" x="1192" y="245"/><use href="#dia" x="1209" y="247"/><use href="#dia" x="1174" y="254"/><use href="#dia" x="1167" y="255"/><use href="#dia" x="1158" y="258"/><use href="#dia" x="1136" y="262"/><use href="#dia" x="1124" y="263"/><use href="#dia" x="1049" y="275"/><use href="#dia" x="1086" y="277"/><use href="#dia" x="1083" y="280"/><use href="#dia" x="1084" y="280"/><use href="#dia" x="1101" y="273"/><use href="#dia" x="1102" y="275"/><use href="#dia" x="1112" y="276"/><use href="#dia" x="978" y="300"/><use href="#dia" x="988" y="303"/><use href="#dia" x="990" y="304"/><use href="#dia" x="992" y="304"/><use href="#dia" x="998" y="304"/><use href="#dia" x="963" y="306"/><use href="#dia" x="950" y="301"/><use href="#dia" x="919" y="323"/><use href="#dia" x="933" y="325"/><use href="#dia" x="905" y="328"/><use href="#dia" x="906" y="329"/><use href="#dia" x="874" y="351"/><use href="#dia" x="860" y="357"/><use href="#dia" x="865" y="357"/><use href="#dia" x="875" y="358"/><use href="#dia" x="856" y="361"/><use href="#dia" x="849" y="365"/><use href="#dia" x="827" y="368"/><use href="#dia" x="815" y="373"/><use href="#dia" x="813" y="375"/><use href="#dia" x="814" y="374"/><use href="#dia" x="782" y="381"/><use href="#dia" x="775" y="385"/><use href="#dia" x="762" y="387"/><use href="#dia" x="752" y="386"/><use href="#dia" x="730" y="393"/><use href="#dia" x="706" y="397"/><use href="#dia" x="705" y="400"/><use href="#dia" x="692" y="401"/><use href="#dia" x="696" y="405"/><use href="#dia" x="697" y="406"/><use href="#dia" x="660" y="420"/><use href="#dia" x="658" y="425"/><use href="#dia" x="661" y="425"/><use href="#dia" x="649" y="427"/><use href="#dia" x="644" y="457"/><use href="#dia" x="577" y="449"/><use href="#dia" x="591" y="450"/><use href="#dia" x="596" y="449"/><use href="#dia" x="603" y="445"/><use href="#dia" x="605" y="444"/><use href="#dia" x="606" y="443"/><use href="#dia" x="608" y="442"/><use href="#dia" x="610" y="441"/><use href="#dia" x="610" y="444"/><use href="#dia" x="559" y="456"/><use href="#dia" x="557" y="458"/><use href="#dia" x="555" y="459"/><use href="#dia" x="548" y="461"/><use href="#dia" x="546" y="467"/><use href="#dia" x="544" y="469"/><use href="#dia" x="542" y="471"/><use href="#dia" x="541" y="474"/><use href="#dia" x="536" y="475"/><use href="#dia" x="523" y="478"/><use href="#dia" x="508" y="482"/><use href="#dia" x="498" y="488"/><use href="#dia" x="485" y="489"/><use href="#dia" x="383" y="506"/><use href="#dia" x="403" y="506"/><use href="#dia" x="406" y="506"/><use href="#dia" x="416" y="506"/><use href="#dia" x="425" y="503"/><use href="#dia" x="400" y="515"/><use href="#dia" x="439" y="516"/><use href="#dia" x="433" y="522"/><use href="#dia" x="447" y="498"/><use href="#dia" x="455" y="495"/><use href="#dia" x="480" y="487"/><use href="#dia" x="347" y="548"/><use href="#dia" x="352" y="552"/><use href="#dia" x="340" y="553"/><use href="#dia" x="333" y="559"/><use href="#dia" x="352" y="564"/><use href="#dia" x="357" y="569"/><use href="#dia" x="362" y="568"/><use href="#dia" x="368" y="571"/><use href="#dia" x="371" y="570"/><use href="#dia" x="265" y="579"/><use href="#dia" x="268" y="583"/><use href="#dia" x="277" y="582"/><use href="#dia" x="245" y="588"/><use href="#dia" x="246" y="588"/><use href="#dia" x="240" y="590"/><use href="#dia" x="226" y="592"/><use href="#dia" x="210" y="597"/><use href="#dia" x="196" y="605"/><use href="#dia" x="187" y="608"/><use href="#dia" x="180" y="611"/><use href="#dia" x="173" y="612"/><use href="#dia" x="164" y="615"/><use href="#dia" x="163" y="621"/><use href="#dia" x="174" y="621"/><use href="#dia" x="152" y="616"/><use href="#dia" x="154" y="619"/><use href="#dia" x="153" y="621"/><use href="#dia" x="155" y="620"/><use href="#dia" x="141" y="627"/><use href="#dia" x="125" y="634"/><use href="#dia" x="92" y="641"/><use href="#dia" x="97" y="641"/><use href="#dia" x="81" y="646"/><use href="#dia" x="788" y="719"/><use href="#dia" x="797" y="719"/><use href="#dia" x="327" y="559"/><use href="#dia" x="328" y="559"/><use href="#dia" x="549" y="461"/><use href="#dia" x="694" y="403"/><use href="#dia" x="695" y="403"/></g>
<g fill="#00aa00"><use href="#g44" x="1165" y="116"/><use href="#g65" x="1172" y="116"/><use href="#g43" x="1179" y="116"/><use href="#g4f" x="1186" y="116"/><use href="#g44" x="1193" y="116"/><use href="#g45" x="1200" y="116"/></g>
<g fill="#00aa00"><use href="#plus" x="1229" y="119"/><use href="#plus" x="1194" y="270"/><use href="#plus" x="1193" y="275"/><use href="#plus" x="1177" y="287"/><use href="#plus" x="1172" y="291"/><use href="#plus" x="1151" y="311"/><use href="#plus" x="1124" y="326"/><use href="#plus" x="1112" y="334"/><use href="#plus" x="1103" y="345"/><use href="#plus" x="1103" y="346"/><use href="#plus" x="1096" y="353"/><use href="#plus" x="1083" y="355"/><use href="#plus" x="1083" y="356"/><use href="#plus" x="1072" y="369"/><use href="#plus" x="1076" y="369"/><use href="#plus" x="1023" y="412"/><use href="#plus" x="1005" y="420"/><use href="#plus" x="997" y="425"/><use href="#plus" x="976" y="431"/><use href="#plus" x="954" y="438"/><use href="#plus" x="935" y="446"/><use href="#plus" x="906" y="455"/><use href="#plus" x="906" y="456"/><use href="#plus" x="914" y="453"/><use href="#plus" x="915" y="452"/><use href="#plus" x="813" y="469"/><use href="#plus" x="825" y="467"/><use href="#plus" x="836" y="467"/><use href="#plus" x="865" y="466"/><use href="#plus" x="874" y="466"/><use href="#plus" x="881" y="466"/><use href="#plus" x="751" y="484"/><use href="#plus" x="753" y="484"/><use href="#plus" x="684" y="505"/><use href="#plus" x="703" y="505"/><use href="#plus" x="704" y="505"/><use href="#plus" x="649" y="512"/><use href="#plus" x="595" y="514"/><use href="#plus" x="586" y="519"/><use href="#plus" x="573" y="523"/><use href="#plus" x="572" y="524"/><use href="#plus" x="559" y="524"/><use href="#plus" x="506" y="534"/><use href="#plus" x="496" y="540"/><use href="#plus" x="485" y="550"/><use href="#plus" x="471" y="550"/><use href="#plus" x="475" y="550"/><use href="#plus" x="455" y="561"/><use href="#plus" x="421" y="573"/><use href="#plus" x="403" y="575"/><use href="#plus" x="400" y="580"/><use href="#plus" x="397" y="584"/><use href="#plus" x="374" y="585"/><use href="#plus" x="370" y="587"/><use href="#plus" x="347" y="587"/><use href="#plus" x="349" y="587"/><use href="#plus" x="328" y="588"/><use href="#plus" x="325" y="590"/><use href="#plus" x="312" y="593"/><use href="#plus" x="307" y="596"/><use href="#plus" x="309" y="596"/><use href="#plus" x="277" y="605"/><use href="#plus" x="250" y="616"/><use href="#plus" x="256" y="616"/><use href="#plus" x="239" y="620"/><use href="#plus" x="223" y="624"/><use href="#plus" x="210" y="635"/><use href="#plus" x="217" y="635"/><use href="#plus" x="196" y="645"/><use href="#plus" x="198" y="645"/><use href="#plus" x="183" y="647"/><use href="#plus" x="185" y="647"/><use href="#plus" x="145" y="651"/><use href="#plus" x="97" y="661"/><use href="#plus" x="92" y="663"/><use href="#plus" x="82" y="668"/><use href="#plus" x="1258" y="238"/><use href="#plus" x="963" y="435"/><use href="#plus" x="963" y="436"/></g>
</svg></body></html>
